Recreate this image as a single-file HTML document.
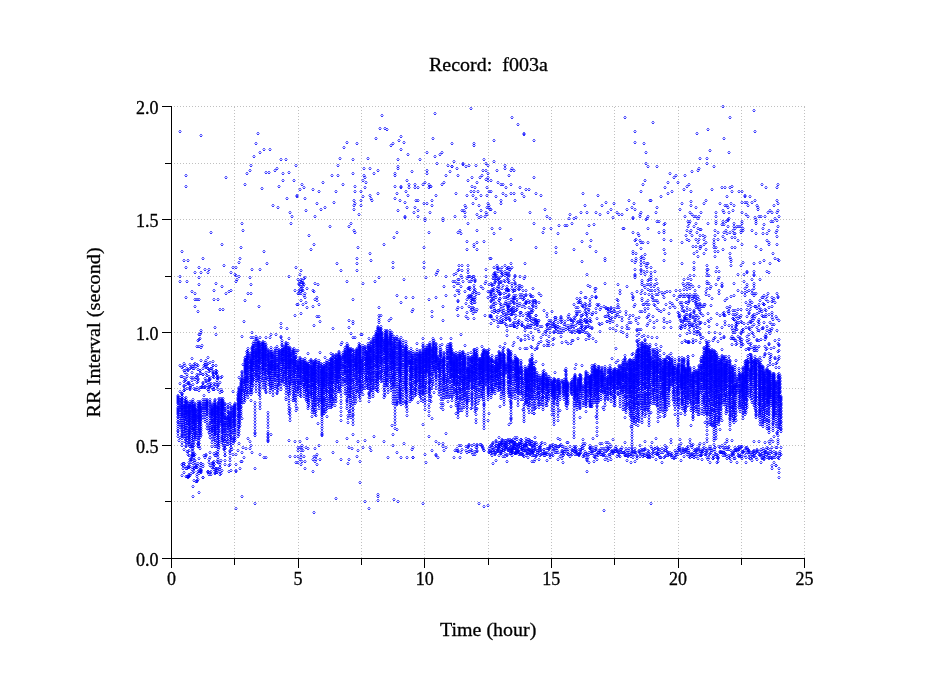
<!DOCTYPE html>
<html><head><meta charset="utf-8"><style>
html,body{margin:0;padding:0;background:#fff;}
svg{display:block;}
text{font-family:"Liberation Serif",serif;fill:#000;stroke:#000;stroke-width:.3px;}
.p{fill:none;stroke:none;marker-start:url(#m);marker-mid:url(#m);marker-end:url(#m);}
</style></head><body>
<svg width="949" height="697" viewBox="0 0 949 697">
<defs><marker id="m" markerUnits="userSpaceOnUse" markerWidth="4" markerHeight="4" refX="0" refY="0" viewBox="-2 -2 4 4" overflow="visible"><path d="M-1 -1.5h2v1h-2z" fill="#00f" fill-opacity=".62"/><path d="M-1 .5h2v1h-2z" fill="#00f" fill-opacity=".78"/><path d="M-2 -.5h1v1h-1zM1 -.5h1v1h-1z" fill="#00f" fill-opacity=".4"/><rect x="-1" y="-.5" width="2" height="1" fill="#00f" fill-opacity=".2"/></marker></defs>
<path d="M171 501.5H805 M171 445.5H805 M171 388.5H805 M171 332.5H805 M171 276.5H805 M171 219.5H805 M171 163.5H805 M171 106.5H805 M234.5 107V558 M298.5 107V558 M361.5 107V558 M424.5 107V558 M488.5 107V558 M551.5 107V558 M614.5 107V558 M678.5 107V558 M741.5 107V558 M804.5 107V558" stroke="#c0c0c0" stroke-width="1" stroke-dasharray="1 2" fill="none"/>
<path class="p" d="M180 131.5M201 135.5M186 175.5M186 186.5M226 177.5M258 133.5M256 143.5M264 149.5M270 149.5M260 152.5M254 156.5M281 159.5M286 159.5M251 165.5M250 170.5M247 173.5M296 165.5M266 172.5M269 172.5M275 170.5M277 168.5M283 173.5M289 172.5M245 184.5M262 188.5M279 186.5M283 180.5M294 180.5M302 184.5M300 189.5M304 187.5M297 195.5M297 196.5M287 198.5M305 198.5M313 189.5M319 191.5M323 182.5M273 205.5M278 207.5M290 212.5M292 216.5M306 210.5M317 203.5M321 209.5M325 207.5M315 216.5M242 223.5M291 223.5M330 226.5M243 230.5M211 232.5M309 235.5M222 244.5M314 244.5M241 247.5M311 249.5M182 251.5M264 251.5M203 258.5M240 258.5M184 260.5M188 260.5M239 262.5M267 263.5M224 265.5M186 267.5M199 267.5M233 267.5M236 267.5M296 267.5M252 269.5M260 269.5M205 269.5M209 269.5M301 270.5M195 272.5M201 272.5M208 272.5M231 272.5M300 274.5M235 274.5M236 275.5M239 276.5M180 276.5M289 276.5M199 277.5M250 277.5M180 281.5M187 281.5M237 279.5M236 281.5M298 279.5M301 279.5M304 278.5M305 277.5M299 283.5M315 283.5M318 284.5M199 284.5M216 283.5M222 286.5M251 284.5M301 286.5M303 286.5M307 288.5M214 290.5M231 290.5M229 291.5M226 293.5M192 291.5M195 293.5M248 293.5M251 293.5M295 290.5M299 290.5M302 290.5M298 293.5M301 293.5M305 293.5M313 290.5M314 291.5M304 295.5M305 297.5M317 297.5M186 297.5M195 299.5M197 299.5M199 299.5M214 299.5M218 299.5M315 299.5M317 300.5M245 300.5M301 300.5M306 302.5M319 304.5M297 304.5M298 304.5M303 304.5M195 306.5M259 306.5M313 306.5M307 307.5M198 311.5M220 309.5M223 309.5M295 315.5M301 313.5M317 316.5M319 316.5M244 321.5M320 321.5M281 323.5M314 325.5M281 327.5M287 328.5M215 327.5M201 330.5M199 334.5M216 334.5M252 332.5M242 336.5M271 334.5M276 334.5M281 336.5M281 337.5M251 337.5M253 337.5M257 338.5M260 337.5M266 337.5M270 337.5M289 338.5M255 433.5M268 433.5M271 434.5M268 436.5M268 439.5M268 441.5M248 438.5M250 441.5M239 443.5M233 443.5M251 445.5M243 447.5M246 448.5M250 448.5M238 450.5M242 452.5M252 452.5M233 454.5M236 454.5M244 457.5M260 454.5M264 457.5M266 457.5M241 461.5M242 461.5M236 464.5M240 468.5M255 468.5M236 470.5M236 471.5M231 470.5M289 440.5M295 441.5M300 441.5M307 438.5M322 434.5M302 445.5M319 445.5M298 447.5M300 447.5M302 447.5M298 450.5M301 450.5M303 450.5M306 447.5M308 448.5M315 448.5M317 454.5M314 456.5M316 456.5M301 454.5M290 456.5M295 456.5M298 456.5M301 457.5M304 456.5M313 459.5M316 459.5M320 459.5M315 461.5M300 459.5M302 461.5M305 461.5M298 462.5M301 464.5M296 462.5M317 464.5M305 468.5M313 471.5M337 441.5M347 438.5M353 434.5M358 441.5M365 440.5M374 436.5M384 441.5M349 447.5M352 448.5M358 450.5M363 447.5M370 447.5M371 450.5M333 452.5M357 456.5M341 459.5M349 459.5M348 463.5M360 461.5M388 457.5M360 482.5M242 496.5M255 503.5M236 508.5M336 498.5M314 512.5M378 494.5M378 496.5M378 500.5M365 501.5M369 508.5M471 108.5M435 113.5M382 115.5M380 128.5M385 128.5M387 129.5M401 136.5M376 138.5M433 138.5M399 140.5M404 142.5M347 142.5M357 143.5M452 143.5M474 143.5M474 145.5M393 143.5M391 145.5M344 147.5M401 149.5M442 152.5M440 154.5M427 152.5M408 154.5M435 156.5M340 158.5"/>
<path class="p" d="M353 159.5M368 158.5M398 159.5M420 159.5M484 159.5M454 161.5M486 163.5M488 165.5M437 163.5M463 163.5M463 164.5M466 166.5M469 165.5M476 165.5M338 165.5M448 165.5M452 166.5M452 166.5M364 168.5M370 168.5M378 170.5M398 166.5M398 168.5M457 168.5M427 170.5M427 173.5M483 170.5M486 170.5M412 171.5M450 171.5M488 173.5M332 175.5M338 175.5M353 173.5M364 175.5M365 177.5M374 173.5M395 173.5M395 175.5M446 175.5M458 175.5M480 177.5M482 175.5M488 177.5M486 179.5M488 180.5M472 177.5M363 180.5M366 182.5M407 180.5M468 180.5M477 182.5M343 184.5M409 184.5M415 184.5M423 184.5M425 182.5M429 184.5M430 186.5M429 187.5M431 186.5M442 184.5M444 182.5M472 186.5M355 186.5M365 187.5M401 186.5M401 187.5M409 187.5M415 187.5M418 187.5M475 187.5M487 187.5M336 191.5M355 191.5M361 191.5M395 186.5M406 191.5M471 191.5M474 191.5M478 191.5M489 191.5M397 193.5M378 193.5M456 193.5M370 195.5M363 196.5M408 195.5M436 195.5M467 195.5M473 195.5M481 195.5M487 195.5M395 198.5M400 200.5M371 198.5M372 200.5M476 198.5M354 200.5M361 200.5M416 200.5M418 200.5M432 200.5M405 202.5M334 202.5M424 203.5M427 203.5M355 203.5M354 205.5M361 205.5M432 205.5M473 203.5M465 205.5M466 207.5M479 205.5M488 203.5M489 205.5M407 207.5M415 207.5M487 207.5M489 207.5M354 209.5M490 209.5M398 210.5M418 210.5M462 210.5M464 210.5M465 212.5M481 210.5M414 212.5M430 212.5M359 214.5M477 214.5M486 212.5M487 214.5M485 216.5M405 216.5M405 217.5M418 216.5M455 216.5M465 216.5M479 217.5M481 216.5M425 218.5M443 218.5M351 223.5M349 226.5M354 230.5M355 232.5M397 232.5M394 237.5M429 232.5M425 220.5M443 220.5M468 223.5M458 232.5M460 230.5M461 233.5M477 230.5M384 244.5M358 247.5M424 247.5M467 241.5M474 244.5M474 246.5M477 242.5M484 241.5M467 249.5M477 249.5M370 253.5M371 260.5M357 258.5M337 263.5M357 263.5M393 262.5M393 267.5M424 262.5M424 267.5M341 270.5M357 270.5M438 270.5M437 272.5M436 274.5M459 265.5M462 265.5M468 265.5M459 269.5M462 270.5M468 269.5M468 272.5M486 269.5M490 258.5M454 274.5M446 276.5M379 277.5M375 281.5M347 281.5M363 283.5M404 279.5M426 277.5M458 279.5M453 281.5M455 281.5M457 283.5M459 283.5M462 277.5M463 281.5M461 286.5M454 286.5M444 286.5M486 276.5M486 281.5M485 283.5M489 284.5M481 286.5M483 288.5M479 293.5M488 297.5M490 291.5M397 295.5M406 297.5M413 297.5M353 299.5M401 302.5M429 299.5M436 297.5M446 295.5M455 295.5M459 290.5M459 293.5M458 300.5M443 306.5M458 307.5M457 309.5M458 315.5M432 311.5M432 316.5M443 320.5M412 311.5M413 309.5M349 320.5M353 321.5M353 323.5M349 327.5M333 328.5M353 337.5M391 318.5M379 307.5M379 315.5M381 315.5M379 318.5M379 320.5M474 318.5M466 316.5M468 318.5M471 307.5M472 309.5M474 311.5M477 309.5M473 313.5M461 334.5M369 338.5M396 338.5M423 338.5M433 338.5M451 338.5M392 425.5M397 429.5M393 434.5M393 445.5M404 443.5M397 452.5M401 457.5M407 457.5M413 457.5M413 457.5M412 449.5M413 447.5M423 424.5M432 418.5M429 436.5M426 462.5M425 454.5M432 450.5M436 441.5M439 443.5M443 443.5M443 446.5M444 450.5M446 433.5M446 447.5M436 454.5M436 455.5M438 457.5M454 457.5M460 457.5M394 499.5M398 501.5M423 503.5M479 503.5"/>
<path class="p" d="M484 506.5M488 505.5M397 402.5M397 403.5M406 402.5M431 401.5M484 404.5M489 413.5M488 420.5M500 406.5M509 424.5M511 418.5M512 117.5M518 124.5M524 133.5M524 134.5M494 140.5M534 140.5M494 161.5M505 165.5M505 168.5M512 168.5M511 170.5M514 170.5M497 170.5M509 175.5M534 177.5M491 180.5M498 182.5M501 184.5M503 184.5M506 187.5M511 184.5M520 187.5M526 189.5M529 189.5M491 191.5M496 196.5M503 193.5M506 195.5M511 193.5M514 193.5M522 193.5M524 196.5M536 193.5M541 195.5M501 200.5M501 203.5M515 200.5M491 209.5M495 212.5M530 212.5M545 209.5M547 216.5M550 218.5M625 117.5M635 131.5M635 142.5M644 143.5M646 152.5M646 163.5M648 166.5M645 180.5M643 184.5M641 191.5M650 200.5M629 200.5M634 203.5M614 203.5M606 202.5M602 205.5M585 205.5M583 193.5M598 195.5M611 209.5M627 209.5M632 207.5M635 209.5M570 214.5M581 212.5M587 212.5M596 212.5M600 214.5M608 212.5M617 212.5M619 214.5M622 214.5M613 217.5M633 217.5M640 214.5M641 212.5M640 216.5M648 216.5M647 218.5M576 217.5M574 218.5M569 218.5M723 106.5M754 110.5M653 122.5M730 117.5M697 133.5M708 129.5M755 131.5M724 138.5M710 150.5M729 152.5M700 158.5M707 158.5M707 163.5M714 166.5M657 166.5M699 168.5M698 170.5M692 171.5M670 173.5M676 175.5M674 177.5M685 175.5M668 182.5M678 182.5M665 187.5M668 193.5M672 191.5M661 196.5M651 200.5M657 207.5M656 212.5M689 184.5M687 186.5M684 189.5M691 191.5M712 189.5M722 187.5M725 187.5M730 187.5M732 186.5M732 191.5M739 191.5M742 191.5M762 184.5M766 187.5M778 184.5M777 187.5M727 196.5M745 195.5M745 196.5M750 196.5M682 203.5M691 201.5M691 205.5M696 207.5M704 203.5M706 200.5M720 203.5M725 205.5M727 205.5M728 207.5M731 203.5M734 205.5M742 202.5M745 202.5M747 202.5M748 205.5M752 202.5M755 200.5M757 205.5M758 207.5M758 209.5M777 200.5M778 203.5M774 205.5M680 209.5M690 212.5M692 214.5M694 216.5M696 216.5M699 216.5M701 212.5M685 216.5M716 212.5M716 216.5M723 210.5M724 212.5M729 212.5M733 210.5M729 218.5M698 218.5M742 212.5M746 214.5M748 216.5M755 217.5M759 216.5M761 216.5M765 216.5M768 212.5M770 210.5M772 212.5M775 218.5M779 216.5M778 210.5M777 212.5M492 228.5M494 233.5M500 228.5M511 239.5M536 247.5M534 223.5M544 228.5M543 232.5M551 228.5M556 247.5M556 252.5M558 233.5M559 225.5M565 225.5M567 225.5M572 223.5M574 249.5M582 241.5M582 261.5M587 233.5M589 225.5M591 240.5M590 246.5M594 224.5M596 251.5M605 258.5M605 260.5M587 274.5M624 228.5M491 258.5M494 267.5M505 265.5M511 263.5M525 263.5M525 276.5M633 218.5M646 219.5M657 221.5M659 221.5M665 223.5M664 224.5M623 228.5M648 228.5M633 232.5M638 233.5M639 235.5M659 232.5M664 230.5M664 232.5M664 239.5M671 240.5M635 240.5M636 239.5M640 240.5M641 242.5M643 242.5M637 244.5M648 242.5M641 248.5M633 251.5M633 253.5M636 253.5M664 249.5M665 253.5M645 254.5M642 256.5M641 257.5M644 258.5M636 258.5M632 260.5M636 260.5M635 262.5M641 259.5M641 262.5M644 262.5M647 263.5M641 265.5M646 265.5M648 263.5M647 267.5M651 267.5M635 269.5M641 269.5M641 270.5M644 271.5M647 271.5M655 271.5M651 272.5M641 273.5M645 274.5M635 274.5M635 275.5M635 277.5M651 275.5M651 277.5M651 279.5M649 279.5M648 280.5"/>
<path class="p" d="M656 279.5M642 280.5M642 282.5M642 284.5M644 285.5M647 284.5M649 284.5M651 283.5M655 284.5M657 283.5M651 286.5M654 286.5M658 288.5M645 287.5M648 289.5M650 290.5M652 290.5M655 290.5M659 291.5M642 290.5M637 291.5M641 293.5M645 293.5M649 294.5M652 294.5M656 294.5M658 294.5M662 292.5M665 292.5M667 291.5M670 291.5M663 294.5M674 295.5M632 293.5M633 296.5M618 284.5M627 286.5M620 290.5M620 293.5M664 260.5M664 297.5M652 297.5M688 221.5M690 221.5M689 223.5M688 226.5M696 223.5M694 226.5M698 228.5M700 229.5M687 230.5M691 230.5M690 232.5M686 235.5M692 235.5M697 232.5M700 235.5M696 239.5M687 239.5M689 240.5M699 239.5M682 242.5M698 242.5M693 246.5M696 246.5M700 246.5M700 248.5M697 251.5M694 253.5M698 256.5M682 263.5M694 262.5M694 267.5M694 269.5M694 275.5M690 275.5M688 278.5M684 279.5M691 279.5M683 283.5M687 283.5M689 283.5M691 284.5M693 286.5M684 285.5M686 286.5M689 286.5M690 288.5M684 289.5M687 289.5M695 290.5M699 286.5M676 290.5M680 290.5M681 294.5M684 294.5M687 294.5M690 294.5M694 294.5M696 294.5M698 296.5M708 223.5M716 221.5M716 223.5M723 221.5M726 221.5M728 220.5M728 219.5M722 224.5M724 224.5M728 226.5M734 223.5M734 226.5M737 226.5M739 226.5M742 221.5M742 223.5M741 226.5M743 228.5M741 230.5M741 232.5M743 230.5M735 228.5M733 230.5M715 230.5M718 232.5M724 232.5M726 230.5M727 233.5M730 232.5M734 233.5M735 233.5M715 235.5M714 239.5M718 239.5M723 236.5M725 239.5M732 237.5M735 237.5M738 240.5M714 242.5M714 244.5M714 247.5M716 247.5M715 251.5M718 251.5M723 249.5M732 247.5M735 247.5M730 253.5M730 257.5M731 259.5M731 261.5M715 256.5M731 265.5M741 265.5M743 262.5M701 229.5M703 235.5M705 236.5M704 239.5M706 242.5M704 244.5M706 249.5M704 253.5M701 246.5M742 244.5M752 230.5M756 219.5M756 221.5M756 223.5M756 233.5M763 233.5M767 233.5M763 228.5M764 224.5M769 230.5M771 221.5M773 221.5M777 220.5M778 226.5M777 230.5M776 232.5M777 236.5M777 244.5M767 240.5M769 242.5M769 244.5M756 246.5M761 249.5M773 253.5M775 258.5M778 259.5M779 260.5M764 260.5M760 262.5M754 263.5M770 263.5M707 265.5M717 267.5M707 269.5M708 269.5M716 271.5M719 271.5M707 272.5M707 275.5M709 275.5M718 279.5M719 277.5M738 274.5M744 274.5M747 271.5M747 272.5M754 271.5M754 274.5M754 275.5M767 271.5M769 272.5M760 279.5M752 279.5M707 281.5M707 283.5M709 283.5M711 286.5M707 288.5M710 288.5M706 291.5M706 294.5M709 295.5M716 284.5M722 283.5M722 285.5M722 286.5M734 283.5M719 290.5M719 293.5M738 290.5M744 281.5M747 284.5M747 286.5M745 288.5M754 283.5M754 285.5M754 288.5M752 290.5M742 292.5M745 292.5M747 291.5M749 290.5M752 293.5M754 293.5M756 293.5M754 295.5M745 295.5M734 295.5M764 295.5M768 293.5M777 293.5M778 297.5M772 297.5M617 299.5M618 300.5M618 304.5M633 297.5M633 299.5M635 304.5M634 306.5M642 300.5M642 298.5M646 302.5M648 300.5M653 297.5M653 300.5M655 300.5M657 300.5M658 302.5M643 304.5M644 304.5M647 304.5M649 304.5M654 304.5M655 305.5M645 308.5M648 308.5M657 308.5M659 310.5M661 311.5M640 311.5M642 311.5M645 311.5M664 309.5M666 304.5M670 302.5M672 303.5M673 305.5M675 307.5M677 299.5M670 307.5M669 313.5M608 308.5"/>
<path class="p" d="M611 308.5M614 308.5M617 307.5M619 307.5M608 311.5M610 311.5M612 312.5M615 311.5M618 312.5M620 311.5M626 311.5M649 314.5M648 316.5M647 317.5M650 320.5M653 316.5M657 320.5M654 322.5M648 323.5M647 325.5M654 327.5M664 318.5M664 321.5M667 322.5M670 321.5M664 327.5M671 327.5M626 314.5M630 315.5M633 315.5M636 318.5M639 317.5M636 320.5M638 323.5M629 318.5M629 322.5M631 322.5M622 317.5M619 316.5M610 320.5M607 321.5M610 322.5M622 320.5M617 325.5M622 327.5M627 325.5M627 328.5M629 328.5M613 328.5M616 330.5M621 331.5M623 332.5M627 334.5M627 336.5M616 348.5M612 358.5M616 362.5M625 355.5M625 358.5M633 353.5M636 353.5M638 358.5M648 336.5M657 337.5M660 350.5M664 353.5M671 353.5M645 339.5M180 391.5M184 386.5M204 395.5M221 389.5M222 391.5M230 403.5M233 391.5M239 377.5M243 364.5M247 351.5M298 350.5M308 353.5M320 352.5M325 357.5M331 353.5M341 344.5M342 342.5M351 333.5M355 337.5M361 334.5M362 334.5M379 322.5M389 320.5M397 336.5M401 337.5M406 341.5M417 343.5M441 338.5M442 344.5M463 351.5M465 345.5M471 352.5M482 346.5M489 349.5M500 346.5M504 347.5M536 361.5M543 364.5M555 372.5M565 370.5M575 368.5M576 364.5M582 365.5M610 365.5M618 360.5M632 354.5M642 336.5M644 335.5M652 337.5M656 344.5M661 346.5M693 355.5M709 341.5M714 338.5M722 349.5M736 360.5M755 350.5M757 350.5M179 440.5M180 437.5M184 449.5M188 451.5M190 446.5M199 443.5M224 449.5M231 447.5M232 437.5M238 436.5M240 425.5M242 418.5M251 400.5M266 392.5M277 393.5M297 408.5M312 416.5M318 423.5M327 416.5M335 405.5M347 400.5M349 411.5M349 411.5M351 417.5M353 414.5M355 403.5M363 394.5M369 393.5M398 400.5M405 401.5M418 402.5M425 400.5M431 396.5M434 392.5M448 401.5M449 397.5M451 406.5M456 413.5M471 408.5M477 408.5M478 403.5M501 398.5M512 397.5M521 399.5M523 409.5M526 402.5M534 413.5M536 407.5M560 410.5M580 417.5M584 403.5M586 411.5M591 405.5M596 416.5M597 406.5M603 407.5M604 409.5M614 405.5M625 417.5M631 426.5M638 425.5M646 413.5M651 412.5M660 416.5M664 416.5M681 413.5M691 425.5M705 422.5M708 422.5M720 429.5M722 420.5M735 418.5M736 420.5M769 441.5M774 436.5M777 433.5M777 432.5M490 450.5M489 451.5M489 448.5M490 446.5M491 453.5M491 445.5M492 444.5M492 447.5M492 452.5M493 450.5M492 450.5M494 452.5M493 442.5M493 447.5M495 453.5M494 449.5M496 441.5M495 450.5M497 451.5M496 440.5M496 452.5M498 446.5M498 451.5M497 443.5M499 445.5M499 445.5M499 442.5M500 446.5M499 455.5M500 446.5M501 443.5M501 453.5M500 442.5M501 453.5M502 447.5M502 442.5M502 440.5M502 442.5M502 439.5M503 450.5M503 450.5M504 450.5M503 440.5M505 449.5M505 440.5M504 444.5M506 447.5M506 440.5M506 445.5M506 446.5M506 442.5M506 446.5M508 450.5M507 454.5M508 444.5M509 442.5M509 450.5M508 439.5M510 448.5M509 448.5M510 451.5M511 444.5M510 445.5M511 453.5M511 440.5M512 450.5M512 441.5M512 452.5M511 453.5M513 448.5M513 446.5M512 448.5M514 442.5M514 445.5M513 439.5M514 444.5M515 452.5M515 437.5M514 442.5M515 453.5M515 440.5M515 444.5M517 451.5M517 452.5M517 450.5M516 452.5M518 450.5M517 437.5M518 446.5M519 452.5M518 450.5M519 444.5M519 446.5M519 443.5M519 454.5M520 453.5M521 447.5"/>
<path class="p" d="M520 445.5M521 451.5M521 454.5M521 439.5M522 448.5M523 444.5M523 454.5M523 446.5M524 450.5M523 455.5M523 452.5M524 445.5M525 449.5M525 446.5M526 444.5M526 445.5M526 444.5M526 450.5M527 452.5M526 438.5M528 441.5M528 439.5M527 445.5M529 442.5M529 439.5M528 453.5M530 452.5M529 449.5M530 440.5M530 453.5M530 444.5M530 443.5M532 445.5M532 449.5M532 455.5M533 451.5M532 445.5M532 441.5M534 455.5M533 450.5M534 455.5M535 443.5M535 447.5M534 445.5M535 445.5M536 442.5M536 456.5M536 455.5M537 454.5M537 450.5M537 444.5M538 452.5M539 447.5M539 447.5M539 453.5M540 450.5M540 447.5M540 446.5M541 450.5M541 443.5M541 454.5M541 449.5M542 442.5M543 453.5M544 449.5M544 449.5M544 453.5M544 452.5M546 453.5M545 453.5M545 443.5M546 452.5M547 454.5M547 448.5M548 452.5M548 448.5M549 449.5M549 448.5M550 447.5M550 454.5M550 446.5M550 455.5M552 445.5M552 451.5M553 446.5M553 448.5M553 455.5M553 444.5M555 452.5M555 448.5M556 452.5M555 445.5M557 450.5M556 445.5M557 446.5M557 448.5M559 446.5M558 452.5M559 446.5M560 445.5M561 453.5M560 456.5M562 451.5M562 450.5M562 446.5M563 455.5M563 452.5M563 455.5M564 453.5M564 449.5M564 451.5M565 451.5M566 449.5M566 447.5M567 453.5M568 454.5M568 449.5M568 451.5M570 446.5M569 454.5M571 453.5M570 456.5M572 454.5M572 449.5M572 450.5M573 450.5M574 448.5M575 447.5M575 451.5M576 449.5M575 451.5M576 450.5M576 446.5M577 454.5M577 452.5M579 454.5M579 454.5M579 455.5M579 453.5M581 449.5M581 449.5M582 446.5M581 452.5M582 448.5M583 448.5M583 456.5M584 454.5M584 455.5M585 451.5M586 453.5M586 453.5M586 457.5M587 454.5M588 457.5M589 454.5M589 452.5M590 447.5M591 453.5M590 448.5M591 451.5M592 451.5M593 453.5M592 450.5M594 456.5M593 447.5M595 450.5M595 457.5M596 448.5M596 449.5M596 446.5M596 454.5M598 452.5M598 455.5M599 452.5M599 450.5M600 450.5M599 452.5M601 454.5M600 451.5M601 448.5M601 454.5M603 454.5M603 455.5M604 451.5M605 455.5M604 454.5M606 451.5M605 448.5M607 450.5M607 457.5M608 447.5M607 446.5M609 448.5M608 449.5M609 454.5M609 448.5M610 454.5M610 456.5M611 446.5M611 459.5M613 451.5M612 450.5M613 452.5M613 453.5M615 451.5M615 448.5M615 451.5M616 448.5M617 450.5M616 451.5M617 449.5M618 451.5M619 455.5M619 452.5M620 456.5M620 449.5M621 449.5M621 449.5M621 452.5M622 452.5M624 452.5M623 452.5M624 452.5M625 451.5M625 454.5M625 455.5M626 448.5M626 455.5M627 452.5M628 450.5M629 448.5M628 456.5M629 454.5M629 452.5M631 456.5M631 453.5M632 450.5M632 451.5M633 451.5M632 448.5M633 457.5M634 454.5M634 451.5M635 448.5M636 452.5M635 452.5M637 456.5M637 455.5M639 451.5M640 453.5M640 456.5M642 450.5M641 449.5M642 454.5M643 454.5M644 449.5M643 449.5M644 452.5M644 455.5M645 455.5M645 449.5M647 453.5M647 456.5M648 450.5M648 457.5M649 456.5M649 451.5M649 456.5M650 457.5M650 456.5M650 454.5M652 453.5M652 448.5M653 449.5M653 456.5M653 452.5M654 451.5M655 448.5M655 448.5M655 453.5M657 447.5M657 454.5M657 452.5M658 451.5M658 448.5M658 449.5M659 453.5M659 455.5M661 457.5M660 457.5M662 448.5M661 452.5M663 452.5M664 457.5M664 449.5M665 456.5M666 448.5M666 455.5M666 450.5M667 447.5"/>
<path class="p" d="M668 455.5M668 453.5M668 452.5M670 452.5M669 454.5M671 455.5M671 454.5M672 453.5M672 455.5M672 457.5M674 457.5M674 458.5M675 450.5M676 457.5M675 455.5M676 454.5M676 452.5M678 450.5M678 448.5M679 447.5M678 454.5M680 449.5M679 449.5M680 450.5M680 447.5M681 453.5M682 452.5M683 449.5M684 456.5M683 448.5M685 449.5M684 452.5M686 449.5M686 449.5M687 454.5M686 450.5M688 452.5M688 448.5M689 452.5M689 450.5M688 452.5M689 456.5M690 457.5M691 454.5M690 455.5M692 456.5M692 453.5M692 454.5M692 456.5M692 447.5M694 450.5M694 457.5M694 457.5M695 449.5M694 454.5M694 452.5M696 451.5M695 454.5M697 448.5M696 450.5M698 458.5M697 452.5M699 448.5M698 454.5M700 451.5M699 449.5M701 451.5M701 455.5M701 454.5M701 451.5M702 454.5M701 455.5M703 448.5M702 450.5M703 451.5M703 451.5M704 447.5M705 450.5M705 454.5M706 454.5M707 450.5M706 448.5M707 457.5M707 451.5M709 448.5M709 454.5M710 448.5M710 453.5M709 457.5M711 452.5M711 450.5M711 448.5M712 450.5M713 455.5M713 458.5M713 458.5M714 457.5M715 451.5M715 447.5M715 447.5M715 454.5M717 457.5M716 454.5M718 458.5M717 454.5M718 457.5M718 455.5M718 457.5M720 452.5M719 446.5M720 447.5M721 452.5M721 451.5M722 452.5M723 452.5M723 447.5M724 452.5M723 455.5M724 450.5M725 453.5M726 447.5M725 447.5M727 456.5M726 454.5M727 449.5M727 458.5M728 447.5M729 455.5M730 458.5M729 449.5M730 456.5M731 450.5M732 455.5M732 454.5M733 453.5M733 452.5M734 450.5M734 453.5M734 458.5M735 447.5M735 458.5M736 449.5M736 450.5M736 450.5M738 452.5M737 449.5M738 447.5M739 449.5M739 449.5M739 448.5M739 456.5M740 455.5M741 447.5M742 456.5M742 451.5M741 454.5M743 451.5M742 446.5M743 452.5M743 451.5M744 450.5M745 455.5M746 448.5M746 447.5M746 452.5M747 447.5M748 450.5M748 449.5M748 452.5M749 454.5M750 452.5M749 451.5M749 450.5M750 458.5M751 456.5M752 457.5M752 454.5M753 451.5M753 454.5M754 455.5M754 451.5M754 453.5M754 456.5M756 457.5M757 450.5M756 452.5M757 449.5M757 451.5M759 451.5M759 454.5M760 454.5M760 455.5M761 449.5M762 453.5M762 451.5M763 457.5M762 457.5M763 448.5M764 450.5M764 455.5M764 458.5M765 451.5M765 456.5M765 452.5M765 452.5M766 449.5M767 447.5M767 454.5M768 453.5M768 452.5M768 448.5M770 449.5M769 457.5M769 455.5M771 451.5M771 457.5M771 457.5M772 458.5M772 447.5M772 452.5M774 451.5M773 457.5M774 455.5M775 457.5M776 454.5M776 447.5M777 447.5M776 452.5M778 457.5M778 457.5M779 458.5M779 453.5M780 453.5M780 455.5M780 451.5M781 454.5M489 452.5M491 451.5M492 455.5M493 463.5M493 443.5M495 454.5M496 460.5M497 448.5M499 445.5M499 437.5M500 442.5M502 449.5M503 456.5M505 442.5M505 456.5M507 455.5M507 461.5M508 448.5M510 439.5M511 450.5M512 455.5M514 448.5M514 448.5M516 452.5M517 444.5M518 451.5M521 447.5M522 448.5M524 456.5M526 455.5M527 441.5M527 448.5M528 457.5M530 454.5M532 461.5M534 461.5M535 437.5M535 459.5M537 452.5M538 450.5M538 450.5M539 459.5M540 455.5M541 445.5M542 453.5M544 455.5M545 455.5M547 460.5M550 445.5M550 457.5M552 454.5M554 449.5M558 438.5M558 459.5M560 439.5M561 444.5M562 458.5M563 446.5M563 462.5M567 442.5M568 442.5M574 451.5M574 446.5M575 454.5"/>
<path class="p" d="M576 451.5M577 453.5M579 449.5M580 452.5M580 453.5M582 446.5M583 439.5M583 443.5M584 445.5M585 443.5M587 459.5M587 460.5M590 445.5M590 448.5M591 447.5M593 438.5M594 450.5M594 461.5M595 456.5M597 459.5M597 454.5M598 452.5M600 443.5M602 443.5M602 452.5M603 448.5M605 459.5M606 442.5M608 442.5M608 460.5M610 444.5M610 454.5M611 451.5M612 451.5M613 439.5M614 450.5M616 446.5M617 456.5M618 454.5M619 452.5M622 447.5M625 442.5M626 455.5M627 460.5M628 455.5M630 454.5M631 462.5M632 454.5M635 461.5M635 451.5M637 458.5M639 450.5M640 445.5M640 452.5M643 456.5M645 448.5M645 441.5M647 456.5M647 454.5M649 453.5M651 446.5M652 442.5M655 448.5M656 459.5M656 438.5M657 453.5M658 454.5M660 449.5M660 457.5M662 462.5M665 450.5M665 445.5M667 451.5M671 439.5M671 442.5M677 452.5M679 445.5M680 439.5M681 460.5M681 443.5M683 450.5M685 451.5M687 447.5M688 446.5M690 442.5M690 439.5M691 445.5M692 445.5M693 444.5M696 456.5M697 449.5M699 445.5M700 455.5M700 443.5M702 459.5M704 443.5M706 453.5M708 459.5M710 446.5M710 462.5M714 444.5M714 449.5M717 462.5M718 461.5M720 451.5M722 452.5M722 445.5M724 452.5M725 455.5M725 443.5M727 439.5M727 441.5M729 457.5M729 446.5M731 461.5M732 453.5M732 440.5M734 456.5M735 450.5M737 462.5M738 455.5M739 446.5M739 455.5M741 456.5M741 446.5M742 458.5M746 462.5M746 457.5M748 449.5M749 457.5M752 460.5M752 452.5M754 450.5M754 441.5M755 453.5M757 459.5M759 441.5M761 454.5M761 462.5M762 458.5M764 459.5M764 455.5M765 442.5M766 452.5M767 457.5M769 458.5M770 453.5M770 443.5M771 439.5M773 441.5M774 462.5M776 453.5M778 443.5M781 447.5M498 449.5M518 451.5M515 442.5M528 449.5M529 449.5M499 444.5M509 442.5M502 445.5M521 439.5M505 448.5M532 452.5M532 451.5M523 448.5M516 452.5M499 447.5M503 448.5M531 441.5M521 443.5M496 445.5M533 452.5M520 445.5M513 452.5M505 447.5M512 440.5M513 445.5M507 447.5M517 444.5M516 449.5M532 441.5M504 445.5M535 449.5M508 449.5M512 451.5M528 448.5M512 441.5M510 441.5M522 453.5M501 451.5M526 441.5M529 452.5M513 447.5M526 445.5M517 439.5M515 448.5M512 451.5M527 451.5M530 449.5M514 448.5M534 444.5M515 443.5M508 440.5M518 447.5M522 448.5M500 451.5M530 450.5M521 442.5M499 448.5M532 446.5M516 448.5M512 449.5M496 445.5M517 445.5M534 450.5M520 441.5M527 453.5M519 443.5M500 446.5M530 444.5M505 453.5M514 443.5M516 447.5M522 440.5M534 442.5M505 443.5M507 443.5M501 452.5M510 453.5M510 441.5M533 452.5M533 448.5M498 450.5M525 450.5M512 450.5M512 447.5M495 446.5M510 447.5M524 450.5M519 449.5M535 448.5M516 453.5M523 446.5M498 447.5M524 445.5M506 443.5M527 443.5M515 453.5M515 446.5M531 450.5M522 444.5M525 442.5M531 443.5M504 444.5M502 449.5M522 449.5M520 443.5M512 449.5M502 443.5M501 444.5M513 442.5M501 451.5M482 445.5M461 452.5M484 450.5M468 446.5M477 451.5M467 452.5M482 446.5M469 445.5M466 446.5M472 452.5M483 447.5M457 448.5M480 444.5M469 451.5M484 450.5M455 450.5M477 444.5M469 451.5M457 450.5M458 450.5M466 450.5M472 450.5M461 445.5M458 451.5M477 445.5M476 447.5M459 445.5M469 444.5M468 447.5M477 450.5M462 449.5M483 448.5M477 447.5M472 445.5M473 454.5M475 454.5"/>
<path class="p" d="M474 444.5M481 444.5M475 451.5M471 449.5M201 373.5M222 376.5M215 384.5M184 363.5M197 364.5M214 389.5M217 377.5M181 376.5M206 381.5M193 377.5M216 373.5M180 365.5M186 379.5M220 392.5M200 387.5M196 377.5M213 361.5M183 366.5M197 374.5M182 376.5M222 391.5M184 381.5M193 384.5M188 369.5M195 389.5M204 387.5M190 364.5M207 375.5M209 376.5M182 367.5M197 389.5M206 360.5M209 391.5M205 378.5M203 368.5M189 382.5M217 377.5M213 372.5M205 364.5M218 384.5M184 390.5M199 390.5M180 383.5M184 370.5M186 384.5M210 378.5M192 358.5M201 360.5M208 357.5M197 382.5M187 368.5M188 382.5M198 378.5M184 390.5M221 377.5M210 362.5M216 365.5M206 367.5M220 382.5M209 379.5M211 368.5M193 368.5M202 387.5M218 389.5M213 376.5M208 363.5M208 389.5M202 386.5M213 376.5M190 388.5M211 385.5M187 388.5M213 365.5M189 383.5M191 377.5M198 369.5M185 365.5M195 363.5M194 364.5M217 371.5M209 386.5M190 368.5M184 385.5M210 384.5M217 386.5M209 369.5M185 372.5M198 379.5M206 380.5M200 370.5M216 370.5M185 380.5M207 375.5M198 381.5M214 383.5M204 365.5M192 372.5M212 387.5M195 379.5M203 382.5M217 380.5M206 372.5M218 377.5M188 370.5M206 366.5M190 387.5M210 370.5M187 376.5M209 379.5M205 387.5M208 368.5M216 373.5M208 368.5M187 374.5M192 366.5M191 367.5M198 365.5M192 380.5M211 368.5M217 374.5M209 387.5M184 377.5M201 387.5M194 388.5M208 382.5M216 370.5M205 386.5M193 366.5M203 374.5M212 368.5M205 364.5M218 385.5M198 375.5M218 378.5M214 374.5M191 385.5M214 377.5M213 365.5M210 386.5M208 389.5M185 389.5M200 370.5M216 372.5M209 380.5M188 383.5M218 376.5M203 383.5M207 385.5M197 387.5M190 385.5M209 371.5M214 389.5M214 386.5M194 368.5M196 377.5M196 366.5M213 371.5M190 389.5M213 389.5M217 382.5M210 379.5M211 383.5M205 362.5M203 385.5M185 370.5M213 373.5M203 374.5M200 373.5M207 364.5M190 387.5M201 332.5M200 334.5M199 339.5M200 338.5M199 346.5M202 345.5M197 346.5M201 347.5M198 340.5M194 457.5M192 456.5M199 446.5M194 455.5M189 462.5M192 459.5M195 454.5M198 443.5M191 459.5M192 455.5M194 460.5M191 458.5M195 462.5M193 455.5M190 446.5M189 455.5M191 462.5M192 445.5M195 460.5M189 450.5M198 444.5M188 454.5M200 448.5M193 454.5M187 451.5M186 445.5M190 459.5M194 453.5M199 458.5M186 446.5M192 469.5M194 468.5M199 470.5M193 472.5M189 465.5M188 466.5M195 465.5M201 471.5M189 475.5M189 467.5M200 471.5M198 471.5M201 469.5M184 472.5M187 476.5M188 467.5M196 467.5M183 465.5M184 463.5M203 477.5M203 464.5M201 463.5M197 476.5M197 474.5M182 464.5M188 476.5M200 467.5M187 468.5M188 476.5M201 470.5M183 463.5M203 466.5M197 465.5M193 467.5M198 463.5M185 466.5M197 467.5M184 463.5M197 465.5M188 477.5M189 474.5M201 463.5M194 468.5M190 475.5M186 476.5M194 468.5M183 468.5M194 471.5M190 466.5M199 473.5M182 475.5M196 466.5M201 470.5M193 463.5M201 465.5M189 476.5M203 477.5M201 472.5M191 473.5M186 468.5M216 452.5M217 453.5M206 454.5M215 455.5M205 457.5M204 455.5M216 455.5M206 455.5M214 453.5M210 452.5M209 459.5M210 457.5M219 469.5M214 464.5M220 467.5M208 471.5M220 471.5M220 467.5M216 469.5M209 462.5M212 467.5M215 473.5M216 470.5M208 472.5M214 467.5M208 471.5M217 461.5"/>
<path class="p" d="M216 472.5M217 472.5M213 463.5M210 472.5M211 474.5M216 468.5M212 463.5M211 471.5M210 465.5M216 468.5M220 474.5M220 464.5M217 472.5M213 466.5M209 474.5M213 462.5M214 461.5M214 464.5M222 470.5M220 462.5M215 472.5M218 468.5M214 469.5M221 473.5M221 460.5M197 480.5M196 481.5M194 480.5M198 479.5M197 481.5M193 486.5M199 492.5M193 496.5M234 438.5M224 439.5M224 448.5M230 443.5M225 455.5M233 440.5M222 437.5M219 441.5M229 465.5M232 449.5M229 471.5M230 451.5M301 286.5M299 293.5M301 291.5M303 282.5M302 289.5M304 284.5M300 289.5M302 280.5M301 282.5M303 283.5M299 284.5M303 290.5M300 281.5M302 282.5M469 287.5M468 288.5M471 281.5M472 299.5M472 298.5M474 297.5M469 295.5M473 276.5M470 296.5M467 278.5M475 302.5M473 299.5M476 292.5M469 276.5M474 302.5M472 277.5M476 294.5M475 280.5M472 279.5M475 289.5M476 292.5M475 297.5M474 276.5M469 297.5M472 294.5M471 300.5M467 299.5M474 291.5M468 296.5M474 288.5M473 299.5M474 285.5M473 292.5M471 295.5M469 281.5M470 287.5M471 302.5M475 299.5M471 296.5M468 276.5M470 289.5M475 279.5M470 276.5M475 281.5M469 288.5M473 307.5M471 310.5M466 303.5M476 311.5M467 312.5M474 308.5M472 303.5M469 306.5M458 270.5M462 307.5M456 273.5M465 291.5M459 279.5M458 301.5M457 290.5M461 275.5M508 290.5M505 281.5M513 291.5M495 275.5M500 269.5M526 294.5M524 304.5M529 313.5M526 319.5M501 293.5M517 299.5M494 308.5M516 315.5M514 307.5M510 325.5M496 297.5M509 280.5M498 268.5M497 288.5M509 310.5M508 289.5M507 273.5M490 316.5M491 316.5M501 304.5M536 320.5M521 312.5M513 297.5M499 291.5M492 299.5M533 305.5M494 288.5M518 324.5M514 290.5M511 314.5M508 310.5M514 322.5M514 298.5M508 307.5M512 308.5M493 290.5M537 325.5M523 299.5M508 306.5M535 328.5M492 296.5M511 302.5M506 319.5M531 295.5M501 281.5M499 293.5M495 273.5M493 275.5M520 285.5M527 327.5M500 298.5M496 311.5M493 278.5M528 320.5M491 292.5M528 315.5M513 300.5M500 322.5M499 278.5M491 300.5M508 289.5M509 275.5M505 316.5M531 312.5M508 298.5M497 290.5M507 296.5M499 282.5M491 291.5M514 279.5M494 312.5M506 319.5M535 323.5M533 300.5M509 267.5M538 320.5M525 307.5M535 300.5M516 285.5M516 310.5M533 310.5M507 316.5M499 280.5M519 289.5M497 319.5M530 301.5M517 304.5M502 271.5M536 305.5M500 294.5M533 296.5M509 282.5M532 323.5M522 325.5M514 325.5M495 310.5M519 320.5M519 322.5M494 320.5M512 267.5M502 320.5M515 326.5M527 317.5M517 302.5M536 301.5M509 295.5M519 305.5M515 290.5M539 320.5M532 312.5M491 283.5M528 314.5M515 282.5M503 319.5M500 319.5M496 276.5M507 268.5M507 286.5M523 315.5M514 326.5M520 294.5M506 292.5M508 296.5M515 276.5M534 302.5M518 288.5M509 294.5M509 317.5M536 319.5M508 267.5M520 312.5M529 327.5M494 295.5M495 282.5M510 320.5M508 305.5M498 322.5M531 325.5M536 307.5M509 271.5M532 309.5M520 315.5M530 319.5M507 278.5M531 296.5M510 269.5M515 288.5M498 312.5M514 303.5M507 304.5M504 297.5M510 305.5M530 312.5M490 296.5M512 313.5M529 307.5M515 283.5M530 325.5M511 299.5M523 290.5M491 316.5M502 275.5M533 301.5M535 319.5M534 318.5M498 291.5M520 297.5M502 322.5M522 325.5M520 288.5M515 310.5M528 300.5M506 303.5M499 300.5M531 327.5"/>
<path class="p" d="M492 318.5M504 305.5M499 300.5M529 302.5M528 312.5M492 311.5M513 323.5M518 321.5M491 307.5M506 289.5M533 321.5M508 313.5M496 303.5M494 278.5M502 311.5M517 307.5M507 274.5M509 302.5M505 314.5M514 295.5M517 327.5M503 321.5M501 322.5M500 277.5M497 316.5M522 322.5M501 316.5M524 326.5M511 309.5M504 293.5M513 301.5M491 306.5M498 279.5M506 324.5M505 303.5M524 298.5M493 298.5M495 274.5M499 310.5M517 309.5M511 309.5M503 285.5M538 322.5M497 278.5M526 302.5M496 280.5M521 312.5M531 320.5M501 306.5M536 302.5M524 295.5M512 288.5M492 284.5M530 316.5M514 326.5M509 290.5M490 315.5M519 285.5M497 275.5M505 271.5M492 289.5M499 291.5M536 322.5M506 297.5M508 277.5M512 285.5M513 307.5M508 281.5M497 265.5M500 303.5M514 290.5M494 298.5M495 272.5M510 269.5M498 271.5M511 310.5M496 278.5M522 306.5M494 304.5M506 289.5M509 318.5M495 281.5M498 326.5M526 301.5M500 309.5M514 297.5M503 308.5M494 306.5M532 318.5M502 267.5M513 310.5M526 290.5M492 285.5M494 292.5M501 272.5M506 319.5M509 306.5M526 313.5M498 267.5M508 290.5M508 308.5M535 300.5M522 286.5M505 275.5M530 315.5M491 315.5M522 324.5M491 293.5M528 324.5M512 311.5M537 324.5M494 284.5M506 273.5M516 295.5M491 301.5M506 313.5M494 301.5M505 323.5M498 310.5M499 283.5M512 283.5M511 314.5M526 302.5M522 297.5M507 268.5M508 310.5M520 303.5M537 321.5M514 298.5M512 314.5M514 302.5M532 304.5M535 320.5M501 282.5M493 289.5M500 293.5M493 304.5M496 295.5M515 275.5M499 286.5M526 295.5M515 298.5M499 289.5M509 313.5M503 312.5M530 294.5M502 273.5M530 317.5M518 324.5M536 315.5M533 306.5M504 310.5M494 273.5M510 319.5M536 315.5M511 325.5M516 322.5M531 309.5M526 303.5M522 294.5M525 330.5M533 336.5M531 332.5M525 348.5M525 339.5M531 346.5M520 348.5M528 335.5M505 343.5M534 324.5M539 331.5M537 324.5M547 345.5M521 339.5M546 331.5M521 340.5M513 345.5M529 338.5M527 348.5M518 337.5M514 342.5M537 348.5M537 347.5M539 342.5M538 344.5M543 334.5M541 341.5M540 326.5M549 345.5M532 347.5M525 327.5M544 345.5M535 349.5M507 330.5M533 339.5M525 335.5M541 337.5M542 326.5M507 335.5M538 329.5M495 310.5M500 298.5M488 291.5M539 302.5M515 318.5M506 301.5M544 310.5M509 274.5M507 326.5M524 278.5M507 289.5M539 293.5M498 286.5M504 280.5M524 298.5M503 315.5M537 322.5M503 274.5M533 288.5M485 315.5M491 323.5M527 326.5M514 313.5M497 268.5M514 311.5M502 288.5M508 306.5M520 276.5M541 295.5M491 294.5M556 328.5M547 324.5M572 326.5M585 319.5M564 324.5M580 320.5M568 325.5M587 320.5M561 317.5M569 327.5M547 324.5M560 332.5M555 326.5M584 329.5M565 321.5M561 330.5M561 322.5M574 329.5M553 323.5M554 331.5M558 326.5M586 321.5M549 322.5M551 320.5M581 327.5M581 315.5M587 318.5M590 320.5M556 319.5M574 317.5M574 320.5M572 332.5M558 322.5M547 328.5M555 325.5M570 318.5M581 327.5M558 332.5M577 322.5M555 317.5M562 319.5M592 328.5M555 327.5M558 326.5M554 322.5M580 331.5M582 321.5M566 329.5M551 323.5M578 329.5M581 318.5M592 327.5M561 316.5M588 326.5M587 326.5M582 323.5M579 332.5M580 332.5M563 328.5M589 325.5M586 327.5M590 320.5M590 318.5M572 331.5M582 326.5M580 329.5M573 321.5M585 319.5M571 320.5M569 329.5"/>
<path class="p" d="M571 324.5M584 320.5M565 324.5M569 314.5M582 331.5M575 318.5M562 321.5M562 332.5M587 321.5M577 330.5M576 325.5M580 321.5M556 328.5M588 322.5M578 321.5M560 327.5M574 326.5M591 321.5M582 328.5M579 323.5M573 324.5M587 332.5M570 331.5M585 326.5M554 324.5M572 320.5M549 320.5M568 316.5M583 331.5M590 327.5M577 314.5M586 322.5M585 328.5M568 319.5M554 322.5M582 325.5M566 327.5M578 331.5M575 332.5M560 319.5M571 319.5M571 327.5M585 332.5M564 330.5M568 328.5M576 315.5M547 325.5M580 323.5M550 325.5M558 329.5M580 311.5M585 311.5M588 309.5M574 304.5M586 304.5M579 301.5M590 305.5M585 308.5M589 312.5M580 300.5M577 313.5M581 302.5M589 309.5M585 303.5M578 311.5M589 305.5M578 307.5M583 314.5M576 307.5M582 305.5M583 306.5M576 311.5M590 302.5M587 313.5M580 302.5M586 314.5M592 314.5M592 314.5M578 302.5M583 305.5M582 315.5M590 299.5M587 315.5M586 312.5M586 307.5M556 317.5M548 343.5M552 326.5M554 338.5M552 311.5M556 331.5M553 344.5M548 324.5M555 319.5M555 317.5M553 326.5M553 339.5M549 341.5M549 336.5M550 328.5M547 316.5M550 332.5M545 331.5M549 328.5M547 330.5M547 313.5M554 332.5M547 340.5M546 334.5M556 325.5M578 338.5M566 341.5M590 335.5M589 334.5M571 343.5M562 342.5M589 338.5M572 340.5M561 336.5M596 341.5M568 343.5M593 338.5M573 340.5M586 339.5M588 335.5M585 297.5M580 298.5M596 296.5M592 296.5M590 286.5M588 285.5M595 288.5M595 291.5M596 297.5M586 297.5M581 292.5M577 298.5M596 312.5M602 323.5M605 283.5M597 318.5M600 324.5M597 304.5M596 297.5M600 331.5M608 309.5M596 288.5M609 317.5M600 309.5M607 321.5M610 328.5M606 316.5M609 317.5M612 317.5M608 308.5M593 312.5M612 312.5M613 321.5M608 314.5M616 315.5M611 307.5M609 315.5M596 308.5M601 307.5M606 308.5M615 317.5M611 310.5M599 304.5M614 311.5M604 306.5M606 307.5M610 320.5M611 318.5M617 314.5M598 305.5M599 323.5M605 316.5M689 300.5M697 327.5M678 312.5M696 326.5M687 310.5M684 316.5M685 317.5M689 296.5M694 310.5M692 298.5M684 310.5M683 306.5M699 317.5M679 313.5M700 303.5M689 322.5M694 327.5M686 302.5M690 326.5M687 307.5M693 317.5M682 307.5M690 322.5M688 296.5M684 320.5M685 296.5M690 315.5M690 316.5M686 318.5M698 304.5M692 325.5M694 312.5M688 320.5M681 325.5M693 316.5M701 306.5M679 296.5M699 309.5M693 300.5M696 323.5M695 301.5M701 322.5M694 296.5M681 320.5M696 307.5M680 318.5M680 296.5M686 324.5M679 316.5M682 310.5M696 303.5M700 309.5M689 297.5M700 322.5M680 315.5M692 324.5M687 314.5M690 314.5M682 326.5M694 311.5M697 315.5M694 322.5M683 321.5M685 317.5M700 323.5M695 315.5M701 313.5M694 297.5M700 312.5M690 326.5M679 315.5M693 325.5M685 325.5M698 320.5M683 296.5M685 327.5M684 311.5M686 302.5M698 325.5M696 304.5M690 318.5M684 319.5M681 304.5M689 324.5M696 317.5M689 324.5M692 296.5M689 301.5M697 298.5M686 314.5M699 299.5M683 324.5M687 318.5M696 300.5M696 297.5M698 307.5M688 303.5M700 304.5M691 313.5M681 321.5M685 318.5M686 320.5M690 309.5M698 306.5M680 327.5M697 302.5M695 319.5M695 320.5M682 302.5M680 302.5M698 331.5M694 330.5M700 328.5M686 341.5M693 342.5M693 339.5M696 340.5M688 342.5M700 333.5M701 338.5M685 340.5M682 342.5M693 342.5"/>
<path class="p" d="M689 329.5M687 333.5M681 328.5M690 332.5M689 341.5M700 342.5M698 331.5M689 342.5M701 336.5M696 331.5M681 328.5M694 333.5M697 334.5M700 334.5M688 341.5M698 331.5M680 335.5M637 341.5M640 343.5M637 330.5M639 329.5M641 329.5M639 339.5M637 340.5M639 333.5M637 329.5M637 335.5M711 318.5M711 305.5M703 315.5M704 306.5M709 321.5M725 300.5M715 337.5M729 313.5M720 315.5M731 296.5M730 306.5M727 307.5M705 304.5M718 341.5M720 333.5M708 313.5M725 324.5M723 313.5M705 323.5M715 332.5M724 314.5M717 313.5M725 315.5M713 340.5M724 336.5M729 311.5M724 315.5M727 298.5M724 312.5M708 320.5M717 324.5M729 325.5M729 308.5M724 337.5M709 332.5M704 304.5M702 306.5M722 327.5M712 298.5M728 311.5M703 337.5M721 338.5M706 340.5M725 321.5M709 326.5M733 310.5M735 340.5M733 330.5M736 344.5M736 321.5M736 340.5M738 309.5M741 309.5M740 337.5M734 319.5M735 332.5M736 323.5M735 310.5M733 318.5M733 314.5M742 330.5M732 328.5M737 343.5M741 315.5M733 318.5M742 322.5M733 338.5M739 322.5M742 343.5M742 339.5M740 317.5M738 318.5M736 326.5M732 344.5M741 321.5M738 336.5M734 338.5M743 344.5M744 323.5M740 338.5M732 336.5M737 324.5M743 331.5M735 314.5M733 338.5M740 340.5M733 332.5M741 346.5M741 341.5M734 319.5M736 329.5M735 328.5M737 322.5M731 338.5M737 313.5M732 325.5M741 343.5M739 316.5M741 332.5M737 329.5M736 316.5M743 329.5M741 333.5M736 325.5M743 329.5M752 302.5M759 330.5M746 349.5M771 330.5M757 339.5M776 367.5M762 297.5M779 350.5M752 362.5M754 348.5M749 361.5M775 357.5M749 312.5M757 362.5M775 358.5M770 333.5M760 300.5M754 361.5M773 364.5M766 336.5M767 326.5M749 328.5M777 330.5M772 312.5M766 334.5M746 327.5M752 316.5M759 366.5M779 344.5M770 357.5M764 304.5M759 340.5M771 356.5M774 347.5M775 302.5M764 304.5M760 310.5M751 322.5M770 322.5M772 301.5M772 324.5M750 309.5M767 330.5M777 362.5M747 309.5M779 339.5M755 306.5M764 356.5M747 360.5M754 336.5M753 333.5M757 308.5M779 358.5M765 336.5M754 314.5M757 313.5M754 360.5M759 319.5M766 299.5M764 316.5M755 316.5M759 362.5M774 298.5M764 304.5M752 318.5M763 316.5M748 348.5M760 357.5M750 300.5M747 360.5M759 322.5M779 345.5M751 354.5M772 306.5M756 359.5M757 327.5M751 306.5M753 315.5M758 360.5M750 329.5M751 358.5M770 364.5M767 348.5M762 315.5M761 360.5M757 348.5M748 342.5M761 364.5M751 343.5M751 321.5M748 323.5M746 302.5M754 318.5M751 363.5M758 359.5M751 358.5M765 346.5M754 348.5M754 348.5M763 303.5M772 317.5M756 363.5M759 365.5M779 367.5M772 314.5M775 340.5M761 309.5M753 320.5M764 322.5M752 332.5M766 337.5M749 339.5M759 304.5M766 316.5M756 306.5M757 340.5M747 336.5M770 361.5M776 316.5M767 296.5M763 328.5M749 334.5M763 297.5M750 344.5M749 348.5M769 344.5M749 349.5M768 365.5M752 326.5M760 366.5M748 305.5M750 354.5M773 319.5M778 296.5M773 300.5M747 316.5M766 349.5M762 328.5M759 324.5M750 321.5M748 367.5M758 321.5M756 346.5M754 346.5M749 327.5M774 324.5M765 354.5M759 307.5M761 367.5M768 301.5M777 318.5M769 353.5M766 314.5M769 343.5M750 303.5M776 363.5M755 306.5M761 339.5M763 327.5M779 320.5M769 314.5M748 362.5M779 356.5M762 311.5M754 324.5M766 310.5M772 328.5M771 348.5"/>
<path class="p" d="M778 343.5M755 356.5M747 340.5M750 354.5M754 350.5M778 351.5M754 365.5M765 339.5M770 329.5M758 330.5M770 359.5M771 354.5M752 367.5M765 353.5M759 312.5M769 307.5M759 346.5M751 347.5M778 359.5M749 313.5M765 309.5M769 331.5M587 471.5M604 510.5M651 503.5M589 462.5M255 402.5M255 405.5M255 408.5M255 411.5M255 414.5M255 417.5M255 420.5M255 423.5M255 426.5M255 429.5M255 432.5M255 435.5M268 412.5M268 415.5M268 418.5M268 421.5M268 424.5M268 427.5M268 431.5M268 434.5M268 437.5M268 440.5M290 408.5M290 411.5M290 414.5M290 417.5M290 420.5M353 409.5M353 412.5M353 415.5M353 418.5M353 421.5M353 424.5M348 415.5M348 418.5M348 422.5M230 450.5M230 453.5M230 457.5M230 460.5M230 464.5M511 402.5M511 404.5M511 407.5M511 409.5M511 412.5M511 414.5M511 417.5M511 419.5M511 422.5M524 404.5M524 406.5M524 409.5M524 411.5M524 414.5M524 416.5M524 419.5M524 421.5M467 400.5M467 402.5M467 405.5M467 407.5M467 410.5M467 412.5M467 415.5M458 402.5M458 404.5M458 407.5M458 409.5M458 412.5M772 465.5M772 468.5M776 465.5M776 465.5M779 468.5M779 472.5M779 477.5M178 395.5v1 1 1 1 1 1 1 1 2 2 1 1 1 1 1 1 1 2 1 2 2 1 2 2 2 2 1 2 3M180 397.5v2 1 2 1 2 1 1 2 1 2 2 2 2 2 2 2 3M182 393.5v3 2 1 2 1 2 1 2 1 2 2 2 1 3 2 2 3 2 3 3 2 3 4 3M182 393.5v1 2 2 1 2 1 2 1 2 1 1 2 2 1 2 2 2 2 2 2 3 2 3 2M184 405.5v1 1 2 1 2 1 2 1 2 2 2 2 2 3 2 2 3M185 398.5v2 1 2 1 1 1 1 2 1 2 1 2 1 2 1 2 2 2 2 1 2 3 3 2 3M186 397.5v2 2 1 2 2 1 2 1 2 1 2 2 2 2 2 2 2 3 3 3 3 3M187 401.5v1 1 2 1 1 2 1 1 1 1 1 2 1 2 1 2 1 2 3 2 2 3 3 2 2M189 405.5v1 1 1 2 1 1 2 1 1 2 2 1 2 1 2 3 2 2 2 2 2 3 2M189 403.5v2 1 1 2 1 1 2 1 2 1 1 2 1 2 1 2 2 2 2 2 2 2 3 3M190 401.5v2 1 1 1 1 2 1 1 1 1 1 1 2 1 1 1 2 1 2 1 1 2 1 2 1 2 2 2 2 3M192 401.5v1 2 1 1 1 1 1 1 1 1 1 2 1 1 1 2 1 1 2 1 2 1 2 2 2 2 2 2 2 2 2 2 3 3M193 399.5v2 2 2 1 2 1 1 1 2 1 1 1 2 1 2 1 2 2 2 1 3 3 2 2 3 4 2 3 3M194 405.5v1 2 1 1 2 1 1 1 1 2 1 1 1 2 1 2 2 1 2 2 2 2 2 3 3M195 403.5v1 2 1 1 1 1 1 1 1 1 1 1 2 1 1 2 1 2 1 2 1 2 1 2 2M196 409.5v1 1 2 1 1 1 1 1 1 1 2 1 2 1 2 2 2 1 2 2 2M198 401.5v2 2 1 2 1 2 1 2 1 1 1 2 1 2 2 2 2 2 3 2 2 3 3 3M199 403.5v1 2 1 2 1 1 2 1 2 1 1 2 1 2 2 2 2 2 2 2 3 2 3 3M200 401.5v1 1 1 1 1 1 1 1 1 1 1 1 1 1 1 1 1 1 1 1 1 1 1 1 2 1 1 1 2 1 2 2M201 405.5v2 1 2 1 2 2 1 2 1 2 3 2 2 2 3 2M203 399.5v2 2 1 2 1 1 2 2 2 3M205 399.5v2 2 1 2 1 1 2 2 2 3 2 2M207 399.5v2 1 1 1 1 1 1 2 1 1 2M207 400.5v2 1 1 2 2 1 2 2 1 2 2 2 2 3 3M209 425.5v3 2 2M210 399.5v2 1 2 1 1 2 1 2 1 1 2 1 2 2 2 1 2 2 2 3 2 3M212 404.5v1 2 1 1 1 1 1 1 1 1 1 2 1 2 1 2 2 1 2 1 3M212 408.5v2 1 2 1 2 2 2 2 2 2 2 2 3 3 3 3 4M214 402.5v2 2 1 1 2 1 1 2 1 2 2 1 2 2 2 2 2 2 2 2 3M215 399.5v1 2 1 1 1 1 1 1 2 1 1 1 1 2 1 1 1 2 1 2 2 1 2 2 2 1 2 2 2 2 2 2M215 404.5v1 1 1 1 1 1 1 1 1 1 1 1 1 1 1 1 1 1 2 1 1 2 1 1 2 1M217 406.5v1 2 1 2 1 2 1 2 2 2 2 2 2 2 3 2 2 3 3 3M218 402.5v1 2 1 1 1 1 1 1 1 1 1 2 2 1 1 1 2 1 1 2 1 2 2 2 2 2 2 2 2 3 2 2 3 3 2 3M219 398.5v1 2 1 1 2 1 1 1 1 1 1 2 1 1 1 1 1 2 1 1 1 2 1 2 2 1 2 2 2 2 2 2 2 2M221 398.5v2 1 2 1 1 2 1 1 2 1 1 1 2 1 2 1 1 2M222 399.5v1 2 1 1 1 1 1 1 1 1 1 1 1 1 1 2 1 1 2 1 2 1 1 2 1 2 1 2 2 2 2 2M223 398.5v2 1 1 1 1 1 1 1 1 1 2 1 1 1 1 1 1 2 1 2 1 1 1 2 1 2 1 2 2 2 2 1 3 2M225 417.5v1 2 2 1 2 2 2 2 2 3 2 3 4 3M225 403.5v1 2 2 1 1 2 2 1 2 1 2 2 2 1 3 2 3 2 3 3 4 3 4 3 5 4M227 417.5v1 2 2 1 2 2 3 3 2 4 2 3M228 404.5v2 1 2 2 1 2 2 1 2 1 2 2 2 2 2 3 3 2 3 3M229 412.5v1 2 1 2 1 2 1 2 1 2M230 418.5v1 1 1 2 1 1 2 2 1 2 2 1 2 2M231 406.5v1 1 2 1 1 1 1 1 1 1 1 1 2 1 1 2 1 1 2 2 1 2 2 2 2 2 2 3M233 407.5v2 1 2 1 2 1 2 2 1 2 3 2 2 2M234 405.5v1 1 1 1 2 1 1 1 1 1 1 2 1 2 1 2 1 2 2 2 2 3 2 2M235 403.5v1 1 1 1 1 1 1 1 1 1 1 1 1 2 1 1 1 2 1 1 2 2 1 2 2 2 2 2M238 392.5v2 1 2 1 1 1 2 1 1 1 2 1 1 2 2 2 1 2 2 2 2 2 2 3 2M239 387.5v1 1 1 1 1 1 1 1 1 1 1 1 1 1 1 1 1 1 1 1 1 1 1 2 1 2 1 2 1 2 1 2 2 1 2 2 3M240 397.5v2 2 2 2 2 3 3 3 3 3M241 379.5v1 2 1 1 1 1 2 1 1 1 1 1 1 1 2 1 2 1 1 2 2 1 2 2 2 2M242 371.5v1 2 1 2 1 2 1 1 1 2 1 2 1 1 2 2 2 2 2 2M244 378.5v2 1 1 2 2 2 2 1 2 2 2 2 3M245 357.5v2 1 1 1 2 1 1 1 1 1 1 1 1 1 2 1 2 1 2 2 1 2 2 2 2 2 2 2 2M246 357.5v2 1 1 2 1 1 2 1 1 1 2 1 2 2 1 2 1 2 2 2 2 3 2M247 351.5v2 2 1 2 1 2 2 1 1 2 1 2 2 2 2 1 2 2 2 3 3 2M248 348.5v2 2 1 2 1 1 1 2 1 1 1 2 1 1 2 1 2 1 2 2 1 2 1 2 3 2 2 2 2 3M250 353.5v2 1 2 1 2 1 2 2 1 2 2 2 2 2 2 3 2 2 3 3M251 359.5v1 1 1 1 1 1 1 1 1 1 1 1 1 2 1 1 2 1 2 1 1 2 2 2 1 2 2M252 347.5v1 1 2 1 1 1 1 1 2 1 1 2 1 1 2 1 2 1 2 2 1 2 2 1 2 3 2 2 3M253 343.5v2 1 1 1 2 1 1 2 1 1 1 1 2 1 1 2 1 2 2 1 2 2 2 2 2 3 2M254 341.5v2 2 1 2 2 1 1 2 1 2 1 2 2 1 2 2 2 2 3 3 2M256 352.5v1 1 1 1 1 2 1 1 2 1 2 1 2 1 2 2 2 2 2M256 336.5v2 1 2 2 1 1 2 1 1 1 1 1 1 2 1 1 2 1 2 2 1 2 2 3 1 2 3 2 3 2 3 3M258 340.5v1 1 1 1 1 1 1 1 1 1 1 1 1 1 1 1 2 1 1 1 1 2 1 1 1 2 1 2 2 1 2 1 2M259 342.5v1 2 1 2 1 1 1 1 1 2 1 1 1 2 1 1 2 2 2 2 2 2 2 2 3 2 2 3 3 3M260 342.5v2 1 1 2 1 1 1 1 1 1 2 1 1 1 1 2 1 2 2 1 3 1 3 2 2 2 3 2 3 3 3 3 4 3 3M262 343.5v1 2 2 1 2 2 1 2 1 2 2 1 2 3 2 3 2 3 3M263 342.5v1 1 2 1 1 1 2 1 1 1 1 1 1 1 1 1 2 1 1 1 2 1 1 2 2M263 341.5v2 2 1 1 1 2 1 1 1 1 1 1 1 2 1 2 1 2 1 2 1 2 2 3 2 2 2 2 3M265 342.5v2 1 2 1 1 1 1 1 1 1 1 1 1 1 1 1 2 1 1 1 2 1 2 1 2 1 2 2 2 2 2 3 2M266 344.5v2 1 2 1 1 2 1 1 1 2 1 2 1 2 1 2 2 1 2 2 3 1 2 3 2 3 3M268 349.5v1 2 1 1 1 1 1 1 1 1 1 2 1 1 1 2 1 1 2 1 2 2 2M269 351.5v1 2 1 2 1 2 1 1 2 1 2 1 3 1 2 3 2 3 2M270 363.5v1 1 2 1 2 2 1 2 2 1 3 2 2 3 2 2M271 347.5v2 2 1 1 1 1 1 1 2 1 1 1 1 2 1 1 1 2 1 2 2 2 2 2 2 2 3M272 351.5v2 2 1 1 2 2 1 2 1 1 2 1 2 2 2 2 2 2 2 2 2M273 353.5v1 2 1 2 1 1 2 1 1 1 2 1 2 2 2 2 2 2 2 2 2 2 3 3M275 348.5v2 1 1 2 1 1 1 1 1 1 1 1 1 2 1 1 1 1 2 1 2 1 2 2 1 2 2 2 2M275 362.5v2 1 2 1 1 2 2 2 2M277 346.5v2 2 2 2 2 2 1 1 2 2 1 2 2 2 2 2 3 2 4 2 3 3M278 364.5v2 1 2 2 2 2 1 2 2 2 3 2 3M279 349.5v1 1 1 1 1 1 1 1 1 1 1 1 1 1 1 1 2 1 1 1 1 2 1 1 2 1 2 1 2 1M281 350.5v1 2 1 1 2 1 1 2 1 2 2 2 2 2 2 2 2 2 3 3 3M282 340.5v2 2 1 2 2 1 2 1 1 2 1 2 1 2 2 2 2 1 2 3 2 3 2M283 349.5v1 1 2 1 2 2 1 2 2 1 3 2 2 2 2 2 3M284 346.5v1 2 1 1 2 1 1 1 2 1 1 2 2 2 1 2 2 1 2 2 3 2 3M286 346.5v1 2 2 1 1 2 1 2 1 1 2 1 2 2 1 2 2 2 2 2 2 3 2 2 3 3 4 2M286 342.5v1 1 1 2 1 1 1 1 1 1 1 1 1 1 1 1 1 1 1 1 1 1 1 1 1 1 2 1 1 1 2 1 2 1 2 1 2M288 343.5v2 2 1 2 1 1 2 1 1 1 2 1 2 1 1 2 1 2 2 2 2 2 3 2 3 2 2 2 3M289 348.5v1 1 2 1 1 1 1 2 1 1 1 1 1 2 1 1 2 1 2 2 2 1 2 2 2 2 2 2 2 2 2 3 2 3 2 3 2 3M290 347.5v1 2 1 2 1 1 1 2 1 1 2 1 1 2 1 2 2 1 2 1 2 2 2 1 2 2 2 2 3M291 351.5v2 1 1 2 1 1 1 1 1 1 1 2 1 2 1 1 2 1 2 2 1 2 2M293 349.5v1 1 1 1 2 1 2 1 1 1 1 1 2 1 1 2 1 2 1 2 1 2 2 1 2 2 2 2 2 2 3 2 2M294 348.5v2 2 1 2 1 2 1 2 2 1 2 2 2 1 2 2 3 2 2 3 2 3 2 3 2 3M295 357.5v1 2 1 2 1 1 2 2 2 1 2 2 2 3 2 2 3 2 3 2 4M296 350.5v2 2 2 1 2 2 1 2 1 2 1 2 2 2 2 2 2 2 2 2 3 2 4 2 3 3 3 4M298 365.5v1 2 1 2 1 2 2 2 2 2 1 3 2 3M298 360.5v1 1 2 1 1 1 1 1 1 2 2 1 1 2 2 1 2 2 2 2 2 3M300 357.5v1 2 1 1 1 1 2 1 1 1 2 1 2 1 1 2 2 2 1 2 3 2 3 2M301 359.5v2 1 1 1 1 1 1 1 1 1 1 1 1 2 1 1 2 1 2 1 2 2 2 2 3 2M303 359.5v2 1 2 1 2 1 1 2 1 2 2 1 2 1 2 2 2M304 360.5v1 2 1 1 1 1 1 1 1 2 1 1 2 1 2 1 2 2 1 2 2 2 2 3M305 358.5v2 2 1 2 2 1 2 1 1 2 1 2 1 2 3 1 2 3 2M306 362.5v1 1 2 1 1 2 1 1 2 1 1 2 1 2 1 2 2 2 2 2 2 3 2M307 363.5v1 1 1 1 1 1 1 1 1 1 1 2 2 1 1 1 1 2 1 1 2 1 1 2 2 1 2 2 2M308 364.5v1 1 1 1 1 1 1 1 1 1 1 2 1 1 2 1 1 2 1 2 2 1 2 2 2 2 1 2 2 2 2M309 361.5v2 2 1 1 1 2 1 2 1 1 1 2 2 1 2 2 1 2 3 1 2 2 2 2 2 3M311 359.5v1 1 1 2 1 1 1 1 1 1 1 1 1 1 1 1 1 1 1 1 1 1 2 1 1 1 2 1 2 1 1 2M312 367.5v1 2 1 2 1 2 1 2 1 2 2 1 2 2 2 2 2 2 2 3 3 2 2 3M313 361.5v1 2 1 2 1 1 2 1 1 1 2 1 2 1 2 2 1 2 2 2 2 2 2 2 3 2 2 3M314 361.5v2 1 1 1 2 1 2 1 1 1 2 1 2 1 2 1 2 1 2 2 3 1 2 2 2 2 2 3 3 2M315 360.5v2 1 1 1 1 1 2 1 1 1 1 1 1 2 1 2 1 1 1 1 2 1 1 2 1 1 2 2 1 2 1 2 2 1 2 2 3 2M316 359.5v2 1 2 2 2 1 2 1 2 1 2 1 2 1 2 2 2 1 3 2 2 2 2 3 3 4 2 4M318 362.5v2 2 1 2 1 2 1 2 1 2 1 2 1 2 2 2 2 2 2 3 2 2 3M319 360.5v2 1 2 1 1 1 2 1 2 1 2 1 2 1 1 2 1 1 2 2 2 2 2 2 2 1 3 2 3M321 363.5v2 1 2 2 1 2 1 2 1 2 2 2 2 2 2 2 2 2 2 2 3M322 364.5v2 1 1 1 1 1 1 1 1 2 1 1 1 1 1 1 1 1 1 2 1 1 1 2 1 2 1 2 2 1 2 2 1 2 2 2 2M322 369.5v1 1 1 1 1 2 1 1 1 1 1 1 1 1 1 2 1 1 2 1 2 2 1 2 1 2 1 2 2 2 2 2 2 2 2 2 2 3 2 3 2 2M324 365.5v2 1 1 2 1 2 1 2 1 1 2 1 2 1 2 2 2 1 3 2 2 2 3 3 3 3M324 363.5v2 1 1 1 2 1 1 1 1 2 1 1 1 1 2 1 1 2 1 2 2 2 2 2 1 2 3 2 2 2 2 2M326 362.5v2 1 1 2 1 2 1 1 1 1 1 1 2 1 1 2 1 1 2 2 1 2 2 2 2 2 2 2 2 3 2M327 360.5v2 1 2 1 2 1 2 1 2 1 1 2 1 2 1 2 2 2 2 1 2 2 3 2 2 3 3M329 361.5v2 1 2 1 1 1 1 2 1 1 2 1 1 1 2 1 1 1 2 1 2 2 1 2 2 2 3 2 2 2M330 359.5v2 2 1 2 2 1 2 2 1 2 1 2 1 2 2 2 2 2 3 2 2 3M331 358.5v1 1 2 1 1 1 1 1 2 1 1 1 1 1 1 1 1 1 2 1 1 2 1 2 1 1 2 2 1 2 1 2 2 2 2 2M332 357.5v2 1 2 1 1 1 1 1 2 1 1 1 1 1 2 1 1 2 2 1 2 2 2 1 3 2 2 2 2 3 2M333 354.5v1 2 1 2 1 1 1 2 1 1 1 1 2 1 1 1 1 2 1 2 1 1 2 2 2 2 1 3 2 2 1 2 2M335 356.5v1 2 2 1 2 1 1 2 1 2 2 2 1 2 2 2 3 2 2 3 3 3 3M336 354.5v1 2 1 1 1 1 1 1 1 2 1 1 1 1 1 1 1 2 1 2 1 1 2 1 2 1 2 2 2 2 2 2 3M337 359.5v1 1 1 1 1 1 1 1 1 1 1 1 1 2 1 1 2 1 2M338 354.5v1 1 2 1 1 1 1 1 1 1 1 1 2 1 1 2 1 2 1 2 2 1 2 2 3 2M339 351.5v1 2 1 1 1 1 1 2 1 1 1 2 1 1 1 1 1 1 2 2 1 2 2 2 2 2 1 3M340 354.5v2 1 1 1 1 1 2 1 1 2 1 1 2 2 1 2 1 2 2 2 2 2 2M341 357.5v1 2 1 2 1 2 1 2 2 2 2 3 3 3 2 4 3 3 4 3 4 4 4 5M343 352.5v2 1 1 1 1 1 2 2 1 1 1 1 2 2 2 1 2 2 1 2 3M345 352.5v1 2 1 2 1 2 1 2 2 1 2 2 1 3 2 2 2M345 347.5v2 1 1 2 1 1 1 1 2 1 1 1 2 1 1 2 2 1 2 2 2 3 1 2 3 2 3 2M347 343.5v2 1 1 1 2 1 1 1 1 1 1 1 1 1 1 1 1 1 2 1 1 2 1 1 1 1 2 1 1 2 1 2 1 2 2 2 2 2 2 2 2 2 2 3 2M348 345.5v2 2 1 1 2 1 1 2 1 2 1 1 1 2 1 2 2 1 2 2 1 3 2 2 3 2 2 3 3M349 348.5v2 1 2 1 2 2 1 2 1 2 2 2 2 1 2 2 3 1 3 2 3 3 3 3M350 349.5v1 1 1 2 1 1 1 1 1 1 1 1 1 1 1 1 1 1 1 1 2 1 1 1 2 1 1 2 1 2 1 2 1 2 1 2 2 1 2 2 2 2 2 2 3 2 2M351 348.5v1 1 1 2 1 1 1 2 1 1 1 1 1 1 1 1 1 2 1 1 1 1 2 1 2 1 1 2 1 2 2 1 2 2 2 2 2 2 2 3M353 349.5v1 2 2 1 1 2 1 1 1 2 2 1 2 1 2 2 2 2 2 1 2 2 3 2 3 3 2 4 2 3 3M354 351.5v2 2 2 1 2 1 2 1 1 2 2 1 2 2 1 2 2 2 2 3 3 2 2 3 2 3M356 350.5v1 2 1 1 2 1 1 2 1 1 1 1 1 2 1 2 1 2 1 2 1 2 2 2 2 2 2 2 2 2 2 3M356 357.5v1 1 1 1 1 1 1 1 1 1 1M357 348.5v1 1 1 1 1 1 1 1 1 1 1 2 1 1 1 1 1 1 1 2 1 1 2 1 2 1 2 1 2 1 2 2 2 1M359 343.5v2 1 2 1 2 1 1 1 1 1 2 1 1 1 1 1 1 2 1 2 1 1 1 2 2 2 2 1 2 2 2 2 2 3 2M360 344.5v2 1 1 1 1 1 1 1 1 1 2 1 1 1 1 1 1 2 1 1 1 1 1 2 1 2 2 1 2 1 2 2 2 2 2 2 2 2 3M360 346.5v1 2 1 1 1 2 1 1 1 1 2 1 1 1 2 1 2 1 2 2 2 1 2 2 1 3 2 2 3 2M362 358.5v2 1 1 1 2 1 2 1 1 2 1 2 2 2 2 2 2 1 3 2M363 345.5v2 1 1 2 1 1 2 1 1 2 1 2 2 1 2 1 2 2 2 2 2 2 3 3 2M365 346.5v1 1 2 1 2 1 2 2 1 2 2 1 2 2 2 2 3 2 2 3 3 3M366 349.5v2 1 2 2 1 1 2 2 2 1 2 2 3 2 2 2 3M367 352.5v1 1 1 2 1 1 1 1 2 1 1 2 1 2 2 1 2 2 2 1 3 2 2M368 343.5v2 1 1 1 2 1 1 1 1 2 1 1 1 1 2 1 1 1 2 1 2 1 2 2 2 1 2 2 2 2 2M369 345.5v2 2 1 2 2 1 2 1 1 2 1 1 2 2 1 2 2 2 2 2 2 3 3 2 4 2 3 4M370 343.5v3 1 2 1 1 2 2 1 2 1 1 1 2 1 2 1 2 2 2 1 3 2 2 2 3 2 3 3 3M371 341.5v1 2 2 1 1 1 1 1 1 1 2 1 1 1 1 1 1 1 1 2 1 1 1 1 2 1 1 2 1 2 1 1 2 1 2 2 2 1M373 338.5v1 2 1 1 1 1 1 1 1 1 1 1 1 1 1 1 1 1 1 1 1 1 1 1 2 1 1 1 2 1 1 1 2 1 2 1 1 2 2 1 2 1 2 2 2 2M374 336.5v2 2 1 2 2 1 2 2 1 2 1 1 2 1 2 2 2 1 2 3 2 3 3 3 2 4M376 331.5v2 1 1 1 2 1 1 1 1 1 1 1 2 1 1 2 1 2 1 1 1 1 1 1 1 2 1 1 1 2 2 2 1 2 1 2 2 1 2 2 2 2M377 332.5v2 2 2 1 2 1 2 2 1 2 2 1 2 2 1 2 2 1 2 2 2 2 2 2 2 3 2 3 3 3M378 328.5v2 2 2 1 2 1 1 2 1 1 2 1 2 1 1 2 1 2 1 2 2 1 2 2 1 2 3 2 2 2 2 2 3 2 3 2M378 326.5v1 1 1 1 2 1 1 1 1 1 1 1 1 1 1 1 1 1 1 2 1 1 1 1 1 1 2 1 1 1 1 2 1 2 2 1 2 2 1 1 2 2 1 2 3M380 328.5v1 1 2 1 1 1 1 1 2 1 1 1 1 1 1 1 1 1 2 1 1 2 1 1 2 1 2 1 2 1 2 2 2 1 3 2M381 326.5v2 1 2 1 1 1 2 1 1 1 1 1 2 1 1 1 2 1 2 1 2 2 1 2 2 1 3 2 2 3 2 2 2 3M382 332.5v1 1 2 1 1 1 1 1 1 2 1 1 1 2 1 1 2 1 2 2 1 1 2 1 3 2 2 1 2 2 2 3M384 338.5v2 1 1 1 1 2 1 1 1 1 2 1 2 2 1 2 1 3 2 2 2 2 2 2 2 2 2 3 2 3 4 3M385 330.5v2 2 1 2 2 1 2 2 1 2 1 2 1 2 2 2 1 2 2 2 2 2 3 2 3 2 4 3 4 3 3M386 331.5v2 1 1 1 1 1 1 1 1 1 1 1 1 1 1 2 1 1 1 2 1 1 2 1 2 1 1 2 2 1 2 2 1 2 2 2 1 3 2M387 330.5v1 2 1 1 1 1 1 1 1 1 1 1 1 1 1 1 1 1 1 1 1 1 1 1 2 1 1 1 2 1 1 1 2 1 2 1 2 1 1 2 2 1 2 2M388 338.5v2 1 1 1 1 1 2 1 2 1 1 1 2 1 1 2 1 2 2 2 1 2 1 3 2 2 3 2 3 2 2 3M390 330.5v2 1 2 1 1 1 1 1 1 1 1 1 1 2 1 1 1 2 1 1 1 1 1 2 1 2 1 2 1 2 1 2 2 2 2 2 2M391 334.5v1 2 2 1 2 1 1 1 2 1 2 1 2 1 1 2 1 2 2 1 2 2 2 2 2 2 2 3 2 3 2 3M392 332.5v2 2 2 2 2 1 2 1 2 1 2 1 1 2 1 1 2 2 1 2 2 2 2 2 3 2 2 3 2 3M393 348.5v2 1 1 2 1 2 1 2 1 1 2 1 2 1 2 2 2 2 1 2 2 2 3 3 2 3 2 2 3 2M394 336.5v2 1 2 1 1 1 1 1 1 1 2 1 1 1 1 1 1 1 1 1 2 1 1 1 1 2 1 2 1 2 1 2 1 2 2 1 2 1M395 338.5v2 1 2 2 1 1 1 2 1 1 1 2 1 1 2 1 2 1 1 2 1 2 2 2 1 2 2 1 3 2 2 3 2 3 2 2 3 2 3 3 3 3 3 3 3 4M397 338.5v1 2 2 1 2 1 1 2 2 1 1 2 1 1 2 1 2 1 2 2 1 2 2 2 2 2 2 3 2 2 3 2 3 2 3 3M399 339.5v2 2 1 2 1 2 1 2 1 2 1 2 1 1 2 1 1 2 2 1 2 1 2 2 2 2 2 2 2 3 2 2 3M400 340.5v1 1 2 1 1 1 1 1 1 1 1 1 1 1 1 1 1 2 1 1 1 1 2 1 1 2 1 1 2 1 1 2 2 1 2 2 2 2 1 2 2 2 1 2 3M400 342.5v1 2 1 2 1 1 2 1 1 2 1 1 2 1 2 1 2 1 2 1 2 2 2 2 3 2 2 3 2 3 2 3 3M401 344.5v2 1 2 1 2 1 2 1 1 1 2 2 1 1 2 1 2 2 2 1 3 2 1 3 2 2 2 2 3 2 3 3 2M403 340.5v2 3 1 2 2 1 2 1 1 2 2 1 2 2 1 2 2 2 2 2 2 3 2 2 2 3 3 2 3 3 3M405 346.5v2 1 1 2 1 2 1 1 1 2 1 2 1 2 1 2 2 1 2 2 1 3 2 1 3 2M406 350.5v1 1 1 1 1 2 1 1 1 1 1 1 1 1 1 2 1 1 1 2 1 1 2 1 2 2 2 1 2 1 2 2 2 2M406 343.5v2 2 1 1 2 1 1 2 1 1 2 1 1 1 1 2 1 1 1 2 1 1 2 2 2 1 2 2 2 2 2 2 3 2 3 2 2 3M407 346.5v2 2 2 1 1 2 1 2 1 2 1 2 1 2 2 1 2 1 2 2 2 2 2 2 3 2 3 3 3 2 3 3 3 4M409 351.5v1 1 2 1 1 2 1 1 1 1 2M410 360.5v1 1 1 2 2 1 1 1 1 2 2 1 2 1 2 2 1 2 2 2 2 2 2 3 2M411 348.5v2 2 1 2 1 2 1 1 2 1 1 2 1 1 1 2 1 2 2 2 1 2 2 2 2 2 2 2 3 2M412 355.5v1 1 2 1 1 1 1 2 1 1 2 1 2 1 2 1 2 2 2 2 2 2 2 2 3 2 2M413 351.5v2 2 2 1 2 2 1 2 2 1 2 2 2 2 2 2 2 3 3 2 3 4M415 353.5v1 1 2 1 1 1 1 1 1 1 1 2 1 1 1 1 2 1 2 1 2 2 1 2 2 2 1 2 2 2M416 358.5v1 2 2 2 1 1 1 1 1 2 1 1 1 2 1 2 1 1 2 1 2 2 1 2 2"/>
<path class="p" d="M417 349.5v2 2 1 1 1 2 1 1 1 2 1 2 1 1 2 1 2 2 1 3 1 3M419 353.5v1 1 1 1 1 1 1 1 1 1 1 1 1 1 1 2 1 1 1 1 2 1 2 1 2 2 2 1 2 2 2M420 350.5v1 2 1 1 1 1 1 1 1 1 1 1 1 2 1 1 1 1 1 1 1 2 1 2 1 1 2 1 2 2 2 2 1 2 2M421 353.5v2 1 2 1 2 1 2 1 2 1 1 2 1 2 2 2 2 2 3 1 3 3 3 2 3M423 343.5v2 1 2 1 2 1 1 1 1 1 1 1 1 1 1 1 1 1 1 1 1 1 2 1 1 1 2 1 1 2 1 2 1 2 1 2 2 1 2M423 352.5v1 2 2 1 2 1 1 2 2 1 2 1 2 2 2 2 1 2 3 2 3 3 2 4 3M425 347.5v2 1 1 2 1 1 2 1 1 1 1 2 1 1 1 2 2 1 1 2 2 2 2 2 2 2 1 3 2 3 2 3 2 3 4M426 349.5v2 1 1 1 1 1 1 2 1 1 1 1 2 1 1 2 1 2 1 2 1 2 2 2 1 2 2 2 3M427 345.5v2 1 1 1 1 1 1 1 1 1 1 1 1 1 1 1 1 1 1 1 2 1 1 1M429 348.5v2 1 2 1 2 1 1 2 1 2 2 2 1 2 2 2 2 2 3 2 2 3 3 2M429 344.5v1 2 2 1 2 1 1 2 2 1 2 1 2 2 2 2 1 2 2 3 2 2 3 2 3 3 3 4 4 3 4 4M430 342.5v2 1 1 1 1 1 1 1 1 1 1 1 1 1 1 1 1 1 2 1 1 1 1 2 1 2 1 1 2 2 1 2 1 2 2 2 1 2 3 2 2 2M432 348.5v1 1 1 2 1 1 1 1 1 2 1 1 1 2 2 2 2 2 1 3 2 2 2 2 3M433 340.5v3 1 2 1 2 1 1 2 1 2 1 1 2 2 2 2 1 2 2 2 3 3 2 3M434 340.5v2 1 2 1 1 1 2 1 1 1 1 1 1 1 2 1 1 1 2 1 1 2 1 2M436 343.5v1 2 2 1 2 1 1 2 1 1 2 1 1 2 2 2 2 2 3 2 3 3 3 3M436 346.5v1 1 1 1 1 2 1 1 1 1 1 1 1 1 1 1 2 1 2 1 2 1 2 1 2 2M438 356.5v1 1 1 1 2 1 1 1 2 1 2M439 360.5v2 1 1 1 2 1 1 2 2 2 1 2 2 2 2 2 3 2 3M440 345.5v2 2 2 1 2 1 2 2 1 2 1 1 2 2 2 2 2 3 3 3 2 4M441 349.5v2 2 1 1 1 2 2 1 1 2 2 1 2 2 2 2 2 3 2 3 3 3 2 3 3 4 4M443 358.5v1 1 1 2 1 1 1 1 2 2 1 2 2 2 1 2 2 2 3 2 2 3 2 2 4 2 4M444 352.5v1 2 2 1 2 1 1 2 1 2 2 1 3 2 2 2 2 2 2 2 3M444 356.5v2 1 1 1 2 1 1 2 1 2 1 2 1 2 2 2 2 3 2 2 3 3 2M446 374.5v2 2 2 2 2 3 2 2 3 3M447 346.5v2 2 2 1 2 2 1 2 2 2 1 2 1 2 2 2 2 3 2 2 3 3 2 3 3M448 344.5v2 2 2 1 2 2 1 1 1 2 2 1 2 1 2 2 1 2 2 2 2 1 3 2 3 3 3M450 343.5v1 2 1 1 2 1 1 1 2 1 1 1 1 1 1 1 1 1 2 1 1 2 1 2 1 2 1 2 2 1 2 2 2 2 2 2 2M451 343.5v2 1 2 1 1 2 1 1 1 2 1 2 1 1 1 1 2 2 1 1 2 2 2 1M452 349.5v2 1 1 1 2 1 1 1 1 1 1 1 1 1 1 1 1 1 1 2 1 1 1 1 2 2 1 2 2 1 2 2 2 2 2 1 3M454 361.5v1 1 1 1 1 2 1 1 2 1 1 2 1 2 1 2 2M454 353.5v1 1 1 1 1 1 1 1 1 1 1 1 1 1 1 1 1 1 1 2 1 1 1 1 2 1 2 1 2 2 1 2 1 2M456 352.5v2 1 1 1 1 1 1 1 1 1 1 1 1 1 1 1 1 1 1 1 1 1 1 2 1 2 1 2 1 2 2 1 1 2 2 2 2 2 2 2M457 358.5v1 1 2 1 2 1 2 1 1 1 2 2 1 2 2 2 1 3 2 2 2 1 3 2M458 353.5v2 1 2 1 2 1 2 1 1 2 1 2 1 2 2 1 2 2 1 2 2 2 2 3 2 2 3 2 3 3 3 3 3M460 351.5v2 2 1 2 1 2 1 2 1 2 1 2 2 1 2 2 1 2 2 2 2 2 1 3 2 3 2 3 2 3 3M460 354.5v1 1 1 1 1 2 1 1 1 1 2 1 1 1 1 1 1 2 1 1 2 1 2 1 1 2 2 1 2 1 2 2 2M462 352.5v2 1 2 1 2 2 1 2 1 2 1 1 2 1 2 1 2 2 1 2 2 2 2 2 2 3 2 3 2 4 3M463 352.5v1 2 2 2 1 1 2 1 1 2 1 2 1 2 2 1 2 1 2 1 2 2 2 2 3 2 3M464 354.5v2 1 2 1 2 1 1 1 2 1 1 2 2 1 2 2 1 2 2 2 2 2 3 2 3 3 3 2 2M465 354.5v2 1 1 1 1 1 1 1 1 1 1 1 1 2 1 1 2 1 1 1 1 1 1 2 1 1 2 2 1 2 1 2 1 2 2M467 368.5v1 1 1 1 2 2 1 1 1 2 1 1 2 1 1 1 2 2 1 2 1 2 1 2 2 2 2M468 353.5v2 2 1 1 2 1 1 1 2 1 1 1 1 2 1 1 2 1 2 2 2 2M469 368.5v1 1 1 1 1 1 1 1 1 2 1 1 1 2 1 2 1 2 2 2 2 2 2M470 357.5v1 1 1 1 2 1 1 1 1 2 1 1 2 1 2 1 2 1M472 356.5v1 2 1 1 1 2 1 1 2 1 1 1 1 1 2 1 2 2 1 2 2 2 1 2 3 1 3 1 3 2M472 356.5v2 2 1 1 2 2 1 2 2 1 2 2 1 2 3 2 2 2 2 2 3 2 3 4 3M474 349.5v1 2 1 1 2 1 1 1 1 2 1 1 1 1 1 1 2 1 1 1 1 1 2 1 1 1 2 2 2 1 2M475 349.5v2 2 1 2 1 1 2 1 2 1 2 1 1 2 1 2 2 1 2 2 2 1 2 2 3 2 2 3 3 2 3 3 3M476 351.5v2 2 2 1 2 1 2 1 2 2 1 2 1 2 2 2 1 2 2 2 3 2 3 4 2 2 3 4 2 4 5 3M477 348.5v2 2 2 1 1 2 1 1 2 1 1 1 2 1 1 2 1 2 1 2 1 2 3 2 2 2 2 2 3M479 358.5v1 1 1 2 1 1 1 1 1 1 1 2 1 1 2 1 1 2 2 1 1 3 2 1 2 2 2 2 2M480 358.5v1 1 2 1 1 1 1 1 1 1 1 2 1 1 2 1 2 2 1 2M481 358.5v2 1 2 1 2 1 1 2 2 1 2 2 2 1 2 2 2 2 2 3 3M482 354.5v1 2 1 2 1 1 2 1 1 1 1 2 1 2 2 1 2 2 2 2 2 2 3 2 3M483 350.5v2 1 1 1 1 1 1 1 1 1 1 1 1 1 2 1 1 1 1 1 1 1 2 1 1 1 2 1 2 2 1 2 2 2 2 2 2M484 349.5v1 1 1 1 1 2 1 1 1 1 1 1 1 1 1 1 1 1 1 1 1 1 2 1 1 2 1 1 2 1 2 1 2 1 2 2 2 2 2 2 2 2 2 3 3 2 3 2 2 3 3M486 350.5v1 1 1 1 1 1 1 1 1 1 1 1 1 1 1 1 1 1 1 1 1 2 1 1 2 1 2 1 2 1M488 350.5v2 1 2 1 1 1 2 1 1 2 1 1 1 2 1 2 1 2 1 2 2 2 2 2 2 2 2 3M488 352.5v1 2 1 1 1 1 1 1 1 1 1 1 1 1 1 1 1 1 2 1 1 2 1 1 2 1 2 2 1 2 2 2 2 2 2M489 357.5v1 2 1 2 1 1 2 1 1 1 2 1 2 1 2 1 2 2 2 2 2 3 2M491 358.5v1 1 1 1 2 1 1 1 1 1 1 1 1 2 1 1 1 1 2 1 2 1 2 1 2 2 2 2 2M492 355.5v2 3 1 2 2 1 2 2 1 2 2 1 2 2 3 2 3 2 3M493 360.5v1 2 2 1 1 1 2 1 1 1 2 1 2 1 1 2 2 2 2 1 2M495 361.5v1 2 2 1 1 1 1 1 1 2 1 1 1 2 1 2 2 1 2 2 2 2M496 356.5v2 1 2 1 1 2 1 2 1 1 1 2 1 2 2 2 2 1 2 2M497 356.5v2 2 1 2 1 2 1 1 2 1 2 2 1 2 3 2M498 363.5v1 1 2 1 1 1 2 2 2 2 1 2 2 2 3 2M499 351.5v1 2 1 2 1 1 1 2 1 1 1 2 1 2 2 1 1 2 1 2 3 1 3 1 2M500 353.5v1 1 2 1 1 1 1 1 1 2 1 1 2 1 2 1 2 2 2 2 2 2 2 2M501 353.5v1 2 1 2 1 1 1 1 1 2 1 2 2 2 1 2 2 2 2 1 3 2 3 3 2M503 348.5v2 1 2 1 2 1 2 1 1 2 1 1 2 1 2 1 1 2 1 3 2 2 2 2 3 2 2M504 354.5v1 1 1 1 1 1 1 2 1 1 1 1 2 1 1 2 1 1 2 2 1 2 2 1 2 2 2 2 2 2 2 2 3M504 354.5v1 2 1 2 1 1 2 1 1 2 1 2 2 1 2 3 2 2 2 3 3 2 2M506 363.5v1 2 1 1 1 2 1M508 349.5v1 2 1 2 1 1 1 1 1 1 2 1 1 1 1 2 1 1 2 1 2 1 2 2 1 2 2 2 2 2M509 350.5v1 2 1 1 2 1 1 1 2 1 2 1 1 1 2 1 1 2 2 1 2 2 1 2 3 2 2 3 2M510 352.5v2 2 1 2 1 1 1 2 1 1 2 1 2 2 2 2 1 2 2 2 3 2 3 2 2 4M511 351.5v2 1 2 2 1 1 1 1 2 1 1 1 1 1 1 1 2 1 2 1 2 1 2 1 2 2 2 2 2 1 2 3 2 2 3M513 361.5v1 1 2 1 2 1 2 2 2 1 3 2 2 3 3 2 3M515 355.5v2 2 1 1 2 1 2 1 1 1 1 2 1 2 1 2 1 2 2 2 2 2 2 2 3 2M516 357.5v1 2 1 1 2 1 2 1 2 1 2 1 2 2 2 3 2 3 3M517 358.5v1 2 1 1 1 1 1 2 1 1 1 1 1 2 1 1 2 1 2 2 2 2 2M518 359.5v1 1 1 1 1 1 1 1 1 1 1 1 1 1 2 1 1 1 2 2 1 1 2 1 2 3 1 2 2 2 3 3M519 367.5v1 1 1 1 1 1 1 2 1 1 1 1 2 1 2 1 2 2 1 2M521 360.5v2 1 2 1 1 1 2 1 1 1 2 2 1 2 2 2 2 3 2 2M522 368.5v2 1 2 1 2 1 2 2 2 2 3 2 2 3M523 378.5v2 2 1 2 3 2 3 3 3M525 366.5v2 2 1 2 1 1 2 1 1 2 2 2 2 2 2 2 2 3 2 3M526 368.5v1 1 1 1 1 1 1 1 1 1 1 1 1 1 1 2 1 1 1 2 1 1 2 1 2 2 2M527 371.5v2 1 1 2 1 1 1 1 1 2 1 1 1 2 1 2 2 1 2 3 2 2M528 367.5v2 1 2 1 1 2 1 2 1 1 2 2 2 1 2 2 2 3 2 2 3 3M529 365.5v2 1 1 1 2 1 1 1 1 2 2 1 2 1 2 1 2 2 2 2 3 3 2 2 4 3M530 359.5v1 1 2 1 1 1 1 1 1 1 1 1 1 1 1 1 1 1 1 1 2 1 1 1 2 1 1 1 1 2 1 2 1 1 2 2 3M532 354.5v2 2 1 2 1 1 1 2 1 1 1 1 2 1 2 1 1 2 1 1 2 2 2 2 2 1 2 2 2M532 358.5v3 2 1 2 1 2 1 2 1 1 2 1 2 1 2 2 2 2 2 2 3 3 3 2 3 3 3M534 363.5v2 2 1 1 2 1 1 2 1 2 1 2 1 2 1 2 3 1 3 2 2 2 3 3 3 4M535 368.5v1 2 1 2 1 1 2 1 1 2 1 2 1 2 2 2 2 2 2 3 2 2 3M537 372.5v2 2 1 2 1 1 2 2 2 1 3 2 3 2M538 375.5v2 2 1 2 2 2 2 2 2 1 2 3 3 3M539 382.5v2 2 1 1 2 2 1 2 2 2 3 2 3M540 375.5v2 1 1 1 2 1 1 2 2 2 2 2 2 3 2 3M542 377.5v2 1 1 1 2 1 2 1 2 1 2 2 2 2 3 2M543 375.5v1 1 1 1 1 2 1 1 1 1 2 1 2 1 2 2 1 2 3 2 3 2M543 371.5v2 1 2 1 1 2 1 1 1 1 2 1 1 2 2 2 2 1 2M544 370.5v2 2 1 2 1 1 2 1 1 2 1 2 2 2M546 373.5v1 2 1 1 1 1 2 1 1 1 1 2 1 2 2 1 2 1 2 2 2 2M547 379.5v1 1 2 1 2 1 2 2 3 3 2 3 3M548 376.5v2 1 1 1 2 1 1 1 2 1 2 1 2 2 2 2M549 376.5v2 2 2 1 1 2 2 2 1 2 3 2M551 378.5v2 1 2 1 2 2 2 2 2M552 382.5v2 1 1 2 1 2 2 2 2 3 2 2 3 3 4M553 381.5v1 1 1 1 2 1 1 1 1 1 2 2M554 378.5v1 1 1 1 1 1 1 1 1 1 1 1 1 1 1 1 2 1 2 1 2 1 2 3 2 2 2 3 2 2 3M555 379.5v1 1 2 2 1 1 1 1 1 1 2 1 2 1 1M557 381.5v1 2 1 1 2 1 2 2 2 2 2 3 2M558 379.5v1 1 2 1 1 1 2 1 2 2 2 1 2 2 2 2 3 3 3 3 4M559 379.5v2 2 1 1 2 1 1 2 1M560 382.5v1 2 1 1 2 1 2 1 2 2 2M562 380.5v1M563 382.5v1 1 2 1 1 2 1 2 2M564 379.5v2 2 2 1 1 2 2 2 1 3 2M565 382.5v2 1 2 2 1M566 368.5v2 1 2 1 1 2 1 1 1 1 2 1 1 1 1 1 2 1 1 1 1 1 2 1 2 2 1 2M567 381.5v1 1 1 1 1 1 1 1 1 2 1 2 1 2 2 1 2 2 3M568 383.5v1 1 1 1 2 1 2 2 1 2 2 2 2M571 382.5v1 1 2 1 1 1 2 1M572 379.5v2 1 2 1 1 2 1 2 2 1M574 377.5v2 1 1 1 2 1 1 1 2 1 1 2 2 2 1 3 2 2 3 3 3 3 3 3 4 4 3 3M575 375.5v1 1 1 1 1 1 1 1 1 1 1 2 1 1 1 1 1 2M575 374.5v2 1 1 1 1 2 1 1 1 1 1 2 1 1 1 2 1 1 2 1 2 2 2M577 386.5v1 1 1 1 2 1 1 1 2 1 2 1 2 2 2 2M578 378.5v1 1 1 1 1 1 1 1 2 1 1 2 1 1 2 1 2 2 2 2M580 374.5v1 2 1 1 2 1 1 2 1 2 1 2 2 2 2 2 2 2 3 2M580 375.5v2 2 1 2 1 1 2 1 2 1 3 2 2 2 3 2 3M581 375.5v2 1 1 1 2 1 2 1 1 2 2 2 2 2M583 385.5v1 2 1 2 2 2 3 2 2 3M585 378.5v1 2 1 2 2 1 2 2 3 2 3M586 383.5v1 1 2 1 2 1 2 2 1 2 3 2 3M586 371.5v1 1 1 1 1 1 1 1 1 1 1 1 1 1 1 1 2 1 1 1 2 2 2 1 2 1 2 2M588 373.5v2 1 1 1 2 1 1 1 2 1 2 2 1 3 1 3 2M590 376.5v1 1 1 1 1 1 1 2 1 1 2 1 2 1 2 2 2 2 2 2M590 376.5v1 1 1 1 1 1 1 1 2 1 1 1 1 2 1 2 2 3 2 2 2M591 375.5v1 1 1 1 1 1 1 1 1 2 1 2 1 1 2 1 2 2 2 2 2 2M592 365.5v2 1 2 1 2 1 1 1 2 1 1 1 2 1 2 1 2 2 2 2 3 2 2 2 2M594 365.5v1 2 1 1 1 1 1 1 1 1 1 1 1 2 2 1 1 2 1 1 2 1 2 1 2 1 2 2M595 364.5v2 1 2 1 1 1 2 1 1 1 2 1 1 1 2 1 2 2 2 2 2M596 369.5v1 1 1 1 1 1 1 1 1 2 1 1 1 1 1 2 1 2 1 2 1 2 2 2 2M597 370.5v1 2 1 1 2 2 2 1 2 2 2 1 3 2 3 3 2 3 4 3 3 3 4 5 4 4M598 366.5v2 1 1 1 1 1 1 1 1 1 1 1 1 1 1 1 1 1 2 1 2 1 2 2 2 1 2 2M599 366.5v1 2 1 1 1 1 1 1 2 1 1 2 1 1 2 1 1 2 1 2 2 2 2 2M601 370.5v1 1 2 1 1 1 1 1 1 1 1 2 1 1 2 2 1 2 2 2 2M602 367.5v1 2 1 1 2 1 1 2 1 1 1 2 1 1 2 2 2M603 372.5v2 1 1 1 1 1 1 1 1 2 1 1 1 2 1 2M605 386.5v2 2 2 2 2 3 3 3M605 366.5v2 1 1 2 1 1 2 1 1 1 1 2 1 1 2 1 2 2 1 2 2 2M607 377.5v2 1 1 2 1 1 2 1 2 2 2 2M608 368.5v2 1 1 2 2 1 1 1 1 1 1 1 1 2 1 1 2 1 2 1 2 2 1M610 368.5v1 1 1 1 1 1 1 1 1 1 1 2 1 1 1 2 2 1 2 2M611 376.5v1 2 2 1 2 1 2 3 2 2M611 368.5v2 2 1 1 2 1 1 2 1 2 2 3 2 3 3 2 3M613 371.5v1 1 2 1 1 1 1 1 1 2 1 2 1 2 2 2 2 2M614 369.5v1 1 1 1 1 1 1 1 1 1 1 1 1 2 1 1 1 1 2 1 2 2 1 2 2 2M615 368.5v1 1 1 1 1 1 1 1 1 1 1 1 1 2 1 1 1 2 1 2 1 2 2 1 2 2 2 2M617 369.5v2 1 1 1 1 1 2 1 2 1 1 2 2 1M618 370.5v1 1 1 1 1 1 1 1 1 1 1 1 1 1 2 1 1 2 2 1 1M619 365.5v1 2 1 1 1 1 1 1 2 1 1 2 1 1 1M620 373.5v1 1 2 1 2 1 2 1 2 1 2 2 2 2 2 2 2 2 3M621 365.5v1 1 1 2 1 1 1 1 1 1 1 1 1 2 1 1 2 1 1 2 1 2M623 363.5v1 2 2 1 1 2 1 2 1 1 2 1 2 2 2 1 2 2 3 2 3 2 3 3 2M623 360.5v2 2 2 1 1 2 1 1 2 1 1 2 1 1 2 2 1 1 3 1 2 2M625 358.5v1 1 2 1 1 2 1 1 1 1 2 1 1 1 1 1 1 2 1 1 2 1 1 1 2 2 2 2 1 2 2 2 2 2 3M626 370.5v1 2 1 2 1 2 2 1 2 2 2 2 2 3 2 3 2 3 3 2 2M627 362.5v1 1 1 1 1 1 1 2 2 1 1 1 1 1 1 1 2 1 1 1 2 1 1 2 1 2 2 1 2 2 2 1 3M629 360.5v1 2 1 1 2 1 1 1 2 1 1 2 1 1 1 1 1 1 2 1 2 1 1 2 1 2 2 2 2 2 1 3 2M630 359.5v1 2 1 1 2 1 1 1 1 1 1 1 1 1 1 1 1 1 1 1 1 2 1 1 1 1 2 1 1 2 1 1 2 2 1 2 2 1 1 2 2 2 2M631 360.5v3 2 1 2 1 2 1 2 1 2 1 2 2 2 2 1 2 2 3 2 2 3 2 4 3 3 3 3M632 360.5v1 1 1 1 1 2 1 1 1 1 1 1 1 1 1 1 1 1 1 1 1 1 1 1 1 1 2 1 1 1 1 2 1 1 2 2 1 2 2 1 2 2 2 2 2 3 2 2 2 2 3 3 2 3 3 2 3M634 361.5v1 2 1 1 1 1 1 1 2 1 1 1 1 1 1 2 1 1 1 1 2 1 1 1 2 1 2 2 2 1 2 2 1 3 1 3 2 2 2 1 3M634 358.5v2 2 1 1 2 1 2 1 2 1 1 1 1 2 1 1 1 1 2 1 2 1 2 2 1 2 2 1 2 2 2 1 2 2 2 2 2 2 3 3M636 355.5v1 2 1 2 1 1 1 2 1 1 1 1 1 2 1 1 1 1 1 1 1 2 1 2 1 1 2 2 1 2 2 2 1 3 1 2 2 3 2 2 3 2 2 3M637 350.5v1 2 2 1 2 2 1 1 2 1 2 1 1 2 2 1 2 2 2 1 2 2 2 2 1 3 2 2 3 3 2 2 2 3 3 2 3M638 342.5v2 1 2 2 1 1 2 1 2 1 1 2 1 2 1 1 2 1 1 2 1 1 2 1 2 1 2 1 2 1 2 2 2 2 2 1 2 2 2 1 3 2 3 2 2 3 2M639 348.5v1 1 2 1 1 1 1 1 2 1 1 2 1 1 1 1 2 1 1 2 1 1 2 1 2 1 2 1 2 2 1 2 2 2 1 2 2 3 1 2 3 3 2 2 2 3M641 346.5v2 2 1 2 2 1 2 1 2 1 2 1 2 1 2 2 1 2 2 2 2 2 2 3 2 3 2 3 2 2 3 3M642 342.5v1 2 1 1 1 1 2 1 1 1 1 1 1 1 1 2 1 1 1 1 1 1 1 2 1 1 2 1 1 1 2 1 1 2 1 2 1 2 2 2 2 1 2 2 2 1 3 2 2 2 2 3 3 2M643 343.5v2 1 2 1 2 1 2 1 2 1 2 1 1 1 2 1 2 1 2 2 1 2 2 1 2 2 1 2 2 3 2 3 2 2 3 2 3 3 2M645 340.5v2 2 2 1 2 2 1 1 2 1 2 1 2 1 2 1 2 1 2 1 2 1 2 1 3 2 1 2 2 3 2 2 2 2 3 2 2 3 2 4 2M645 345.5v1 1 1 2 1 1 1 1 1 1 1 1 1 1 1 1 1 1 1 1 1 1 1 1 1 1 1 1 2 1 1 1 1 2 1 1 2 1 1 2 2 1 2 2 2 1 2 1 2 2 2M647 344.5v2 1 2 1 1 1 1 1 1 2 1 1 1 1 2 1 1 1 1 1 1 1 2 1 1 2 2 1 2 1 2 2 1 2 2 2 1 2 2 3 2 2 2 2M648 347.5v2 1 2 2 1 1 2 1 1 1 2 2 1 2 1 2 1 2 1 2 1 2 2 2 2 2 2 3 2 2 2 3 3 2 3M649 346.5v1 2 1 2 1 1 1 1 2 1 1 1 1 1 1 1 1 1 2 1 1 1 2 1 2 1 1 2 2 1 2 1 2 2 2 1 2 2 3 1 3 2 2 3 2 3 3 2 3M650 344.5v2 2 2 2 1 2 1 2 1 2 1 1 1 2 1 2 1 2 1 2 1 2 2 2 3 2 2 2 2 3 2 3 3M651 357.5v1 2 1 2 1 1 2 1 2 2 2 2 2 2 2 2 2 3 3 3 3 4M653 349.5v1 1 2 1 2 1 2 1 1 1 1 1 1 1 1 1 1 2 1 1 1 1 2 1 2 1 1 2 1 2 2 1 2 1 2 2 2 2 2M654 361.5v1 2 1 1 1 1 1 1 1 1 1 1 2 1 1 2 1 1 2 1 2 2 1 2 2 2 2M655 349.5v2 1 2 1 1 2 1 2 1 1 2 1 1 1 2 1 1 2 1 2 2 1 2 2 2 2 2 2 2 2 3 2 2M657 348.5v2 2 1 2 1 2 1 2 1 2 2 1 2 1 1 2 3 1 2 2 3 2 2 3 2 3 3 3 3M657 361.5v1 1 1 1 1 1 1 1 1 2 1 2 1 2 1 1 2 2 1 3 2 1 2 2 2 2 3 2M658 351.5v3 2 2 1 2 2 1 1 1 2 1 2 1 2 2 2 2 2 2 2 2 3 2 3 2 3 3 3 3 3 4 4M660 355.5v2 2 1 2 1 1 1 2 1 2 1 1 1 2 1 1 2 1 2 2 2 2 2 2 2 2 2 2 3 3 3 2M661 360.5v2 1 2 1 2 1 1 2 1 2 1 1 2 1 2 2 2 1 3 2 1 2 2 3 3 3 3M663 359.5v2 1 2 1 2 1 2 1 2 1 2 2 1 2 2 1 2 2 2 2 2 2 3 2 2 3 3 3M663 367.5v1 2 1 1 2 1 2 1 1 2 1 2 1 2 2 2 2 2 2 2M665 359.5v1 1 2 1 1 1 1 1 1 1 1 1 1 1 1 1 1 1 1 1 1 1 2 1 1 1 1 2 1 1 2 1 2 2 1 2 2 2 1 2 2 2 2M665 359.5v1 1 1 1 1 1 1 1 1 1 1 1 1 1 1 1 1 1 1 2 1 1 1 1 1 2 1 2 1 2 1 2 2 1 2 2 2 2 2 2M667 356.5v1 2 2 1 1 2 1 1 1 1 2 1 1 1 1 2 1 2 1 2 1 2 2 1 2 2 2 2 2 3 2 2 3M669 355.5v2 1 2 2 1 2 1 2 1 2 1 1 2 1 2 2 2 2 2 2 2 3 2 2 3 2 3M669 363.5v1 1 1 2 1 1 1 1 2 1 1 2 1 2 2 2 2 2 1 3M670 358.5v1 2 1 1 1 1 1 1 1 1 2 1 1 1 1 2 2 1 1 2 1 2M672 357.5v2 1 1 1 1 1 1 2 1 1 1 1 1 1 1 2 1 1 2 1 2 1M673 366.5v1 1 1 1 2 1 1 2 1 2 1 1 2 2 2 2 2 1 2 2 3M674 365.5v2 1 2 1 2 1 2 2 2 2 2 2 2 2 3 3 3 2 3M675 359.5v2 2 2 2 1 2 2 1 2 1 2 1 2 3 2 3 2 3 3 2 3 4 3 5M677 368.5v1 1 1 1 1 1 2 1 1 1 2 1 1 2 2 1 2 1 2 1 3 2 2 3M678 364.5v1 1 1 1 2 1 1 1 1 1 1 2 1 1 1 2 1 2 1 2 1 2 2 2 2 2 2 2 2 3 3 2 3 2 3 3M679 357.5v2 1 2 2 1 1 2 1 1 1 1 1 2 1 1 2 1 1 2 2 1 2 2 2 1 3 2 1 3 2 3M681 373.5v1 1 1 1 1 1 1 1 1 1 1 1 1 2M682 357.5v2 1 1 2 1 1 1 1 1 1 1 1 1 2 2 1 1 1 1 1 1 1 1 2 1 1 2 1 1 2 2 2 1 2 2M682 363.5v2 1 1 1 1 1 1 2 1 1 1 1 1 1 1 1 2 1 1 2 1 2 2 1 2 1 3 1 2 2 2 2M684 358.5v1 1 1 1 2 1 1 1 1 1 1 1 2 1 1 1 1 1 1 2 1 1 1 2 1 2 1 2 1 2 2 2 2 2 2 3 2M685 368.5v1 1 1 1 1 2 1 1 1 2 1 2 1 2 1 1 2 2 2 2 1 2 2 2 2 2 2 2 3M686 368.5v1 1 1 1 1 1 1 1 1 1 1 1 1 1 1 1 2 1 1 2 1 1 2 1 2 1 2 2 2 2 1 3M688 356.5v2 2 1 2 1 1 2 1 1 1 2 1 1 1 1 1 2 1 2 1 2 1 2 2 2 1 2 2 3 2M688 356.5v2 2 2 1 1 2 1 2 1 1 2 1 1 2 1 2 1 2 2 2 2 2 3 2 2 2 2 3M690 367.5v1 1 1 1 1 2 1 1 2 1 1 1 2 1 1 2 2 1 2 2 1 3 1 2M691 373.5v2 1 2 1 1 2 1 2 1 1 2 2 1 2 2 2 2 2 1 3 2 2M693 373.5v1 2 1 1 2 1 2 1 2 1 2 2 2 2 2 2 2 3 2 3 2 3 3M693 373.5v2 1 1 2 1 1 1 1 2 1 1 2 1 2 2 2 1 3 1 2 3 2 3 3 2 3M694 367.5v2 2 1 1 2 1 1 2 1 1 1 2 1 2 1 2 1 2 1 1 2 2 3 1 2 3 2M696 370.5v1 1 1 1 1 1 1 2 1 1 1 1 2 2 2 1 2 1 1 2 1 1 1 2 1 2 2 1 2 2M698 370.5v2 1 2 1 2 1 2 2 1 1 2 2 2 1 2 2 2 2 2 2 3 2 2 3M698 372.5v1 1 1 1 1 1 1 1 1 1 1 1 1 1 1 1 2 1 1 1 1 1 2 1 1 2 1M699 365.5v1 2 1 1 2 1 1 2 1 1 1 2 1 1 2 2 1 2 2 1 2 2 2 2 3 3 2 3 2M701 358.5v2 1 2 2 1 1 1 1 2 1 1 1 1 2 1 1 1 2 2 1 2 1 2 2M702 356.5v2 2 1 2 2 1 1 2 1 2 1 2 1 1 2 1 2 2 2 2 2 3 2 2 2 3 2 4 3 2M704 355.5v1 1 1 2 1 1 1 1 1 1 1 2 2 1 1 1 1 2 1 1 1 2 1 1 2 1 1 2 2 2 1 2 2 2 2 2 2M704 347.5v1 2 2 1 2 1 1 1 2 1 1 1 1 1 2 1 1 2 1 1 1 2 1 1 2 1 2 2 1 2 2 2 2 2 2 2 2 3 2 2 2 3M706 346.5v2 1 1 1 1 1 1 2 1 1 1 1 2 1 1 2 1 1 1 1 1 2 1 1 1 2 1 1 1 2 1 1 2 1 2 2 1 2 2 2 2 2 2 2 2 2 2M707 343.5v2 2 2 1 2 1 1 1 2 1 1 2 1 1 1 2 1 1 2 1 2 1 1 2 2 1 2 2 2 1 2 2 2 2 2 3 2 2 3 2 3 2 3 3 3 3 4 4 4 3M707 342.5v1 2 1 2 1 1 1 1 1 2 1 1 1 1 1 1 1 1 1 1 1 1 1 1 2 1 1 1 1 1 1 2 1 1 2 2 1 2 1 2 1 2 2 1 2 2 3 1 2 2 2 2M709 345.5v2 2 1 1 2 1 2 1 2 1 1 1 2 1 1 1 2 1 2 1 1 1 2 2 1 2 1 2 2 1 3 1 2 3 2 1 2 3 2 2 2 3M710 350.5v1 1 2 1 1 1 1 1 1 1 2 1 1 1 2 1 1 1 1 1 1 2 1 1 2 1 2 1 1 2 1 2 1 2 2 2 2 2 2 2 2 2 3 2 3 2 3 2M711 352.5v1 2 1 1 2 1 2 1 2 1 2 1 1 2 1 2 2 1 2 2 2 2 1 2 2 3 2 3 2 3 2 2 3 3 2 3 4M712 349.5v1 1 1 2 1 1 1 1 1 1 2 1 1 1 1 1 1 1 1 1 1 1 1 1 1 1 1 1 1 1 2 1 1 1 2 1 1 2 1 2 1 2 1 2 2 1 2 2 1 1 2 2 2 2 2 2 2 1M714 350.5v1 1 1 1 1 1 1 1 1 1 1 1 1 1 1 1 1 1 1 1 1 1 1 2 1 1 2 1 1 1 1 1 2 1 1 2 1 1 1 2 1 1 2 1 1 2 1 1 2 2 1 1 2 2 2 2 2 1 2 1 2 2 2 2 3 2 2M715 351.5v3 1 2 2 1 1 2 1 1 2 1 1 2 1 1 1 2 1 2 1 2 1 2 1 2 2 2 2 2 2 2 2 3 3 2 3 3 2 3 3 2M716 352.5v2 1 1 2 1 1 1 2 1 1 1 1 1 1 1 2 1 1 1 1 1 1 1 1 1 2 1 1 1 2 1 1 1 1 2 1 2 1 2 2 1 2 1 2 2 2 3 2 2 2 2 2 3 2 2 3 3M717 354.5v2 1 1 2 1 2 1 1 1 2 1 1 1 1 1 1 1 2 1 1 1 1 1 2 1 1 1 2 1 1 2 1 2 1 2 2 1 2 2 2 2 2 2 3 2 2 2M719 357.5v2 2 2 2 2 1 2 1 2 2 2 1 2 2 1 2 2 2 2 2 2 2 2 2 2 2 3 2 3 3 3 2 3M719 359.5v2 1 1 1 2 2 1 1 1 1 1 1 1 1 1 1 1 1 1 1 2 1 1 1 2 1 1 2 1 2 1 1 2 2 1 1 2 2 1 3 1 2 2 1 2M721 359.5v1 1 1 1 1 1 1 1 1 1 1 1 1 1 1 1 1 1 1 1 1 1 1 1 1 1 1 1 1 1 1 2 1 1 1 2 1 1 2 1 1 2 1 2 1 2 2 2 2M722 355.5v1 2 1 2 1 1 1 2 1 1 1 1 1 1 1 1 1 1 1 2 1 1 1 2 1 2 1 2 1 2 2 1 2 2 2M724 356.5v1 1 1 1 2 1 1 1 1 1 1 1 1 1 1 1 1 1 1 1 1 1 1 1 1 2 1 1 2 1 1 2 1 2 2 2 1 2 2M725 365.5v1 1 2 1 1 1 1 1 1 2 1 2 1 2 1 2 2 1 2 3 1 2 2M726 356.5v2 2 2 1 1 1 1 1 2 1 1 1 1 1 2 1 1 2 1 2 1 2 1 2 2 2 2 1 2 2 2 2 2 2 3 2M727 360.5v1 2 1 1 2 1 1 1 2 1 1 1 2 1 2 1 2 2 1 2 2 2 2 2 2 2 2 3 2 2 2M729 356.5v3 2 2 2 1 2 1 2 1 2 2 1 2 1 2 2 1 2 2 2 1 2 2 2 2 3 2M730 360.5v1 2 1 2 1 1 1 2 1 1 2 1 1 2 1 2 1 2 1 1 2 2 1 2 1 2 2 2 2 3 2 2 2 3 3 3 2 2 4M730 371.5v1 1 1 1 1 1 1 1 1 1 1 1 2 1 1 1 1 1 2 1 1 1 2 1 1 2 1 1 2 2 1 2 1 3 1 2 2M732 366.5v1 1 2 1 1 2 1 1 1 2 1 1 1 2 1 2 1 2 1 1 2 2 2 2 2 2 2 1 2 3 3M733 366.5v2 1 1 2 1 1 1 1 1 1 1 1 1 1 1 2 1 1 1 1 1 1 1 2 1 2 1 2 1 1 2 1 2 1 2 2 2 2 2 2M734 385.5v1 1 1 2 2 1 2 2 2 2 2 2 2 2 3 2 2 3 3M735 365.5v2 2 2 2 1 2 1 2 1 2 2 1 2 1 2 2 2 1 2 2 3 2 3 3 2 3 3M736 382.5v2 1 1 2 2 1 2 2 2 2 2 2 2 2 3 2 3M737 376.5v2 1 2 1 2 1 1 2 2 2M739 368.5v2 2 2 1 2 1 1 2 2 2 1 2 2 2 2 2 2 2 2 3 2M740 373.5v1 1 1 1 1 1 1 1 2 1 1 1 2 1 1 1 1 1 2 1 1 2 2 1 2 1 2 2 2M742 374.5v1 1 1 1 2 1 1 1 1 1 1 1 1 1 1 1 1 2 1 1 2 1 2 2 1 2 1M743 367.5v1 1 2 1 1 1 1 1 1 1 1 1 2 1 1 1 1 1 2 1 1 2 1 1 2 2 2 1 2 2 2 2 2 1 2 3M744 376.5v1 2 1 2 1 2 1 2 2 2 2 2 2 2 2 2 3 3M745 361.5v2 2 2 1 2 1 2 1 2 1 1 2 1 1 2 2 1 2 2 2 2 2 2 2 2 3 2 3 3M746 360.5v1 2 1 1 1 1 1 1 1 1 1 1 1 1 1 1 1 1 1 1 1 1 1 2 1 1 1 2 1 1 2 1 2 1 2 2 1 2 2 2 2M747 362.5v1 1 1 1 1 1 1 1 1 2 1 1 1 1 2 1 1 1 2 1 2 1 2 1 2 2 2 2 1 3 2 2M748 355.5v2 2 2 1 2 1 2 1 1 2 2 1 3 2 2 2 2 3 2 2 3M750 369.5v1 1 1 2 1 1 1 2 1 2 2 2 2 2 2 2 2M751 355.5v2 2 2 1 1 2 1 2 1 1 1 2 1 2 2 1 2 2 1 2 3 2 2 2 3M752 357.5v2 2 1 2 1 1 2 1 1 2 1 1 1 2 1 2 2 2 2 2 2 3 2 2 3 2M754 360.5v2 1 2 1 1 2 1 2 1 2 2 1 2 2 2 2 2 3 3 2 3 3 3M755 359.5v1 2 1 1 1 1 2 1 2 1 1 1 2 1 1 2 1 2 2 1 2 2 2 2 2 2 3 2 2 3M756 362.5v1 1 2 1 1 1 1 2 1 1 1 1 1 1 1 1 2 1 1 1 1 2 1 2 1 2 2 1 2 1 2 2 2 2 2 1 2 2M756 359.5v2 2 1 2 2 1 1 2 1 1 1 1 2 2 1 1 2 2 2 1 2 2 3 1 2 3 2 2 2 3 3 3M759 361.5v2 2 1 1 2 1 1 2 1 1 2 1 2 1 1 2 1 1 2 1 2 2 1 2 1 2 2 2 1 2 2 3 2 2M760 370.5v1 1 2 1 1 1 1 1 1 1 2 1 1 1 1 1 2 1 2 1 1 2 2 1 2 2 1 2 2 2 2 2 2M760 363.5v1 2 1 2 1 1 1 1 1 1 2 1 1 1 1 1 1 1 2 1 1 2 1 1 2 1 1 2 1 2 2 2 2 2 1 2 3 2 2 2 3M762 366.5v1 2 1 2 1 2 1 2 1 2 2 2 2 1 2 2 2 2 2 2 2 3 2 2 3 3 3 3 3M763 366.5v1 1 2 1 1 1 1 2 1 1 2 1 1 1 1 2 1 1 1 1 2 1 1 2 1 2 1 2 2 2 1 2 2 2 2 3 2 2 2 2M764 373.5v1 1 1 1 1 1 1 1 1 1 1 1 1 1 2 1 1 1 2 1 1 2 1 2 2 1 2 2 1 2 2 2 2 2 2M765 370.5v1 2 1 1 2 1 1 1 1 1 1 2 1 1 1 1 2 1 1 1 1 2 1 2 2 1 2 1 2 2 2 2 2 3 2M767 368.5v1 1 1 1 1 2 1 1 1 1 1 1 1 1 1 2 1 1 1 1 1 1 1 1 1 2 1 1 1 1 1 2 1 2 2 1 2 1 2 2 2 1 2 2 2 2M768 370.5v1 2 1 2 1 2 1 1 1 2 1 1 1 2 1 1 1 2 1 1 2 1 2 1 2M769 371.5v1 1 1 1 2 1 1 1 1 2 1 1 1 1 1 1 1 1 1 1 1 1 1 1 2 1 1 1 1 1 2 1 1 2 1 2 1 2 2 2 1 2 2 2 1 2 2M770 371.5v1 1 1 1 1 1 2 1 1 1 1 1 1 1 1 1 1 1 1 1 1 2 1 1M771 375.5v2 2 2 2 1 2 1 1 2 2 2 1 2 2 2 2 2M773 373.5v1 1 1 1 1 1 1 1 1 1 1 1 2 1 1 1 1 1 1 1 1 1 1 1 1 1 1 1 1 1 1 1 2 1 2 1 2 1 2 1 2 2 1 1 2 2 2M774 373.5v2 2 1 2 1 1 2 1 1 1 2 1 2 1 1 2 1 2 1 2 2 2 2 1 3 2 2 2 2M774 374.5v1 1 1 1 1 1 1 2 1 1 1 1 1 1 1 1 1 1 2 1 1 1 2 1 1 1 2 2 1 2 1 2 2M776 381.5v1 1 1 1 1 1 1 2 1 1 1 1 2 1 1 2 1 1 1 2 1 2 2 2 1 2 2 2 2 2 3M778 374.5v2 1 2 2 1 2 1 2 1 1 2 1 2 1 1 2 1 2 2 1 2 3 1 3 2 3 2 3 3 3 2 4 4 2M779 373.5v2 1 2 1 2 1 1 1 2 1 1 1 2 1 1 2 1 1 2 1 1 2 2 1 2 2 2 2 3 2 3 2 3"/>
<path class="p" d="M780 375.5v2 1 2 1 2 1 2 1 1 2 1 1 2 2 1 2 2 2 2 2 2 2 2 2 2 3 3 3 2M781 396.5v1 1 1 1 2 1 1 1 2 1 2 1 2 1 2 1 2 2 1 2 2 2 1 2"/>
<path d="M171.5 106V558 M171 558.5H805 M162 558.5H171 M165 501.5H171 M162 445.5H171 M165 388.5H171 M162 332.5H171 M165 276.5H171 M162 219.5H171 M165 163.5H171 M162 106.5H171 M171.5 559V568 M234.5 559V565 M298.5 559V568 M361.5 559V565 M424.5 559V568 M488.5 559V565 M551.5 559V568 M614.5 559V565 M678.5 559V568 M741.5 559V565 M804.5 559V568" stroke="#000" stroke-width="1" fill="none"/>
<text transform="translate(429 71) scale(1 .93)" font-size="20">Record:</text>
<text transform="translate(502.3 71) scale(1 .93)" font-size="20">f003a</text>
<text x="158.5" y="566.1" text-anchor="end" font-size="18">0.0</text>
<text x="158.5" y="453.1" text-anchor="end" font-size="18">0.5</text>
<text x="158.5" y="340.1" text-anchor="end" font-size="18">1.0</text>
<text x="158.5" y="227.1" text-anchor="end" font-size="18">1.5</text>
<text x="158.5" y="114.1" text-anchor="end" font-size="18">2.0</text>
<text x="171.5" y="584.6" text-anchor="middle" font-size="18">0</text>
<text x="298.1" y="584.6" text-anchor="middle" font-size="18">5</text>
<text x="424.7" y="584.6" text-anchor="middle" font-size="18">10</text>
<text x="551.3" y="584.6" text-anchor="middle" font-size="18">15</text>
<text x="677.9" y="584.6" text-anchor="middle" font-size="18">20</text>
<text x="804.5" y="584.6" text-anchor="middle" font-size="18">25</text>
<text transform="translate(488.2 636) scale(1 .93)" text-anchor="middle" font-size="20">Time (hour)</text>
<text transform="translate(99.8 332.4) rotate(-90) scale(1 .93)" text-anchor="middle" font-size="20.3">RR Interval (second)</text>
</svg>
</body></html>
